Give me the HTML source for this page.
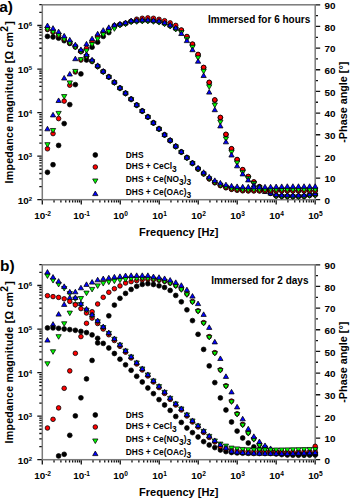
<!DOCTYPE html>
<html><head><meta charset="utf-8"><style>html,body{margin:0;padding:0;background:#fff}svg{display:block}</style></head>
<body><svg width="350" height="498" viewBox="0 0 350 498" font-family='"Liberation Sans", sans-serif'>
<rect width="350" height="498" fill="#fff"/>
<text x="-0.8" y="11.7" font-size="15.5" font-weight="bold">a)</text>
<text x="0.0" y="271.4" font-size="15.5" font-weight="bold">b)</text>
<text x="208.0" y="22.5" font-size="10" font-weight="bold">Immersed for 6 hours</text>
<text x="211.2" y="283.9" font-size="10" font-weight="bold">Immersed for 2 days</text>
<path d="M42.30 199.70v4.8 M54.03 199.70v2.8 M60.90 199.70v2.8 M65.77 199.70v2.8 M69.55 199.70v2.8 M72.63 199.70v2.8 M75.24 199.70v2.8 M77.50 199.70v2.8 M79.50 199.70v2.8 M81.28 199.70v4.8 M93.01 199.70v2.8 M99.88 199.70v2.8 M104.75 199.70v2.8 M108.53 199.70v2.8 M111.61 199.70v2.8 M114.22 199.70v2.8 M116.48 199.70v2.8 M118.48 199.70v2.8 M120.26 199.70v4.8 M131.99 199.70v2.8 M138.86 199.70v2.8 M143.73 199.70v2.8 M147.51 199.70v2.8 M150.59 199.70v2.8 M153.20 199.70v2.8 M155.46 199.70v2.8 M157.46 199.70v2.8 M159.24 199.70v4.8 M170.97 199.70v2.8 M177.84 199.70v2.8 M182.71 199.70v2.8 M186.49 199.70v2.8 M189.57 199.70v2.8 M192.18 199.70v2.8 M194.44 199.70v2.8 M196.44 199.70v2.8 M198.22 199.70v4.8 M209.95 199.70v2.8 M216.82 199.70v2.8 M221.69 199.70v2.8 M225.47 199.70v2.8 M228.55 199.70v2.8 M231.16 199.70v2.8 M233.42 199.70v2.8 M235.42 199.70v2.8 M237.20 199.70v4.8 M248.93 199.70v2.8 M255.80 199.70v2.8 M260.67 199.70v2.8 M264.45 199.70v2.8 M267.53 199.70v2.8 M270.14 199.70v2.8 M272.40 199.70v2.8 M274.40 199.70v2.8 M276.18 199.70v4.8 M287.91 199.70v2.8 M294.78 199.70v2.8 M299.65 199.70v2.8 M303.43 199.70v2.8 M306.51 199.70v2.8 M309.12 199.70v2.8 M311.38 199.70v2.8 M313.38 199.70v2.8 M315.16 199.70v4.8 M42.30 199.70h-5 M42.30 186.59h-3 M42.30 178.92h-3 M42.30 173.48h-3 M42.30 169.26h-3 M42.30 165.81h-3 M42.30 162.90h-3 M42.30 160.37h-3 M42.30 158.14h-3 M42.30 156.15h-5 M42.30 143.04h-3 M42.30 135.37h-3 M42.30 129.93h-3 M42.30 125.71h-3 M42.30 122.26h-3 M42.30 119.35h-3 M42.30 116.82h-3 M42.30 114.59h-3 M42.30 112.60h-5 M42.30 99.49h-3 M42.30 91.82h-3 M42.30 86.38h-3 M42.30 82.16h-3 M42.30 78.71h-3 M42.30 75.80h-3 M42.30 73.27h-3 M42.30 71.04h-3 M42.30 69.05h-5 M42.30 55.94h-3 M42.30 48.27h-3 M42.30 42.83h-3 M42.30 38.61h-3 M42.30 35.16h-3 M42.30 32.25h-3 M42.30 29.72h-3 M42.30 27.49h-3 M42.30 25.50h-5 M42.30 12.39h-3 M42.30 4.72h-3 M315.20 199.70h5 M315.20 188.87h2.8 M315.20 178.04h5 M315.20 167.22h2.8 M315.20 156.39h5 M315.20 145.56h2.8 M315.20 134.73h5 M315.20 123.90h2.8 M315.20 113.08h5 M315.20 102.25h2.8 M315.20 91.42h5 M315.20 80.59h2.8 M315.20 69.76h5 M315.20 58.94h2.8 M315.20 48.11h5 M315.20 37.28h2.8 M315.20 26.45h5 M315.20 15.62h2.8 M315.20 4.80h5" stroke="#111" stroke-width="1.3" fill="none"/>
<rect x="42.3" y="4.8" width="272.90" height="194.90" fill="none" stroke="#7a7a7a" stroke-width="1.5"/>
<g font-weight="bold" fill="#000"><text x="42.60" y="219.20" text-anchor="middle" font-size="9.9">10<tspan font-size="6.6" dy="-3.0">-2</tspan></text><text x="81.58" y="219.20" text-anchor="middle" font-size="9.9">10<tspan font-size="6.6" dy="-3.0">-1</tspan></text><text x="120.56" y="219.20" text-anchor="middle" font-size="9.9">10<tspan font-size="6.6" dy="-3.0">0</tspan></text><text x="159.54" y="219.20" text-anchor="middle" font-size="9.9">10<tspan font-size="6.6" dy="-3.0">1</tspan></text><text x="198.52" y="219.20" text-anchor="middle" font-size="9.9">10<tspan font-size="6.6" dy="-3.0">2</tspan></text><text x="237.50" y="219.20" text-anchor="middle" font-size="9.9">10<tspan font-size="6.6" dy="-3.0">3</tspan></text><text x="276.48" y="219.20" text-anchor="middle" font-size="9.9">10<tspan font-size="6.6" dy="-3.0">4</tspan></text><text x="315.46" y="219.20" text-anchor="middle" font-size="9.9">10<tspan font-size="6.6" dy="-3.0">5</tspan></text><text x="32.2" y="203.60" text-anchor="end" font-size="9.9">10<tspan font-size="6.0" dy="-3.0">2</tspan></text><text x="32.2" y="160.05" text-anchor="end" font-size="9.9">10<tspan font-size="6.0" dy="-3.0">3</tspan></text><text x="32.2" y="116.50" text-anchor="end" font-size="9.9">10<tspan font-size="6.0" dy="-3.0">4</tspan></text><text x="32.2" y="72.95" text-anchor="end" font-size="9.9">10<tspan font-size="6.0" dy="-3.0">5</tspan></text><text x="32.2" y="29.40" text-anchor="end" font-size="9.9">10<tspan font-size="6.0" dy="-3.0">6</tspan></text><text x="324.6" y="203.90" font-size="9.9">0</text><text x="324.6" y="182.24" font-size="9.9">10</text><text x="324.6" y="160.59" font-size="9.9">20</text><text x="324.6" y="138.93" font-size="9.9">30</text><text x="324.6" y="117.28" font-size="9.9">40</text><text x="324.6" y="95.62" font-size="9.9">50</text><text x="324.6" y="73.96" font-size="9.9">60</text><text x="324.6" y="52.31" font-size="9.9">70</text><text x="324.6" y="30.65" font-size="9.9">80</text><text x="324.6" y="9.00" font-size="9.9">90</text></g>
<text x="178.8" y="235.60" text-anchor="middle" font-size="11" font-weight="bold">Frequency [Hz]</text>
<text transform="translate(12.8 102.30) rotate(-90)" text-anchor="middle" font-size="10.7" letter-spacing="0.22" font-weight="bold">Impedance magnitude [&#937; cm<tspan font-size="10.4" dy="-5.0">2</tspan><tspan dy="5.0" dx="0.8">]</tspan></text>
<text transform="translate(347.4 102.20) rotate(-90)" text-anchor="middle" font-size="10.8" font-weight="bold">-Phase angle [&#176;]</text>
<path d="M42.30 459.70v4.8 M54.03 459.70v2.8 M60.90 459.70v2.8 M65.77 459.70v2.8 M69.55 459.70v2.8 M72.63 459.70v2.8 M75.24 459.70v2.8 M77.50 459.70v2.8 M79.50 459.70v2.8 M81.28 459.70v4.8 M93.01 459.70v2.8 M99.88 459.70v2.8 M104.75 459.70v2.8 M108.53 459.70v2.8 M111.61 459.70v2.8 M114.22 459.70v2.8 M116.48 459.70v2.8 M118.48 459.70v2.8 M120.26 459.70v4.8 M131.99 459.70v2.8 M138.86 459.70v2.8 M143.73 459.70v2.8 M147.51 459.70v2.8 M150.59 459.70v2.8 M153.20 459.70v2.8 M155.46 459.70v2.8 M157.46 459.70v2.8 M159.24 459.70v4.8 M170.97 459.70v2.8 M177.84 459.70v2.8 M182.71 459.70v2.8 M186.49 459.70v2.8 M189.57 459.70v2.8 M192.18 459.70v2.8 M194.44 459.70v2.8 M196.44 459.70v2.8 M198.22 459.70v4.8 M209.95 459.70v2.8 M216.82 459.70v2.8 M221.69 459.70v2.8 M225.47 459.70v2.8 M228.55 459.70v2.8 M231.16 459.70v2.8 M233.42 459.70v2.8 M235.42 459.70v2.8 M237.20 459.70v4.8 M248.93 459.70v2.8 M255.80 459.70v2.8 M260.67 459.70v2.8 M264.45 459.70v2.8 M267.53 459.70v2.8 M270.14 459.70v2.8 M272.40 459.70v2.8 M274.40 459.70v2.8 M276.18 459.70v4.8 M287.91 459.70v2.8 M294.78 459.70v2.8 M299.65 459.70v2.8 M303.43 459.70v2.8 M306.51 459.70v2.8 M309.12 459.70v2.8 M311.38 459.70v2.8 M313.38 459.70v2.8 M315.16 459.70v4.8 M42.30 459.70h-5 M42.30 446.59h-3 M42.30 438.92h-3 M42.30 433.48h-3 M42.30 429.26h-3 M42.30 425.81h-3 M42.30 422.90h-3 M42.30 420.37h-3 M42.30 418.14h-3 M42.30 416.15h-5 M42.30 403.04h-3 M42.30 395.37h-3 M42.30 389.93h-3 M42.30 385.71h-3 M42.30 382.26h-3 M42.30 379.35h-3 M42.30 376.82h-3 M42.30 374.59h-3 M42.30 372.60h-5 M42.30 359.49h-3 M42.30 351.82h-3 M42.30 346.38h-3 M42.30 342.16h-3 M42.30 338.71h-3 M42.30 335.80h-3 M42.30 333.27h-3 M42.30 331.04h-3 M42.30 329.05h-5 M42.30 315.94h-3 M42.30 308.27h-3 M42.30 302.83h-3 M42.30 298.61h-3 M42.30 295.16h-3 M42.30 292.25h-3 M42.30 289.72h-3 M42.30 287.49h-3 M42.30 285.50h-5 M42.30 272.39h-3 M42.30 264.72h-3 M315.20 459.70h5 M315.20 448.87h2.8 M315.20 438.04h5 M315.20 427.22h2.8 M315.20 416.39h5 M315.20 405.56h2.8 M315.20 394.73h5 M315.20 383.90h2.8 M315.20 373.08h5 M315.20 362.25h2.8 M315.20 351.42h5 M315.20 340.59h2.8 M315.20 329.76h5 M315.20 318.94h2.8 M315.20 308.11h5 M315.20 297.28h2.8 M315.20 286.45h5 M315.20 275.62h2.8 M315.20 264.80h5" stroke="#111" stroke-width="1.3" fill="none"/>
<rect x="42.3" y="264.8" width="272.90" height="194.90" fill="none" stroke="#7a7a7a" stroke-width="1.5"/>
<g font-weight="bold" fill="#000"><text x="42.60" y="479.20" text-anchor="middle" font-size="9.9">10<tspan font-size="6.6" dy="-3.0">-2</tspan></text><text x="81.58" y="479.20" text-anchor="middle" font-size="9.9">10<tspan font-size="6.6" dy="-3.0">-1</tspan></text><text x="120.56" y="479.20" text-anchor="middle" font-size="9.9">10<tspan font-size="6.6" dy="-3.0">0</tspan></text><text x="159.54" y="479.20" text-anchor="middle" font-size="9.9">10<tspan font-size="6.6" dy="-3.0">1</tspan></text><text x="198.52" y="479.20" text-anchor="middle" font-size="9.9">10<tspan font-size="6.6" dy="-3.0">2</tspan></text><text x="237.50" y="479.20" text-anchor="middle" font-size="9.9">10<tspan font-size="6.6" dy="-3.0">3</tspan></text><text x="276.48" y="479.20" text-anchor="middle" font-size="9.9">10<tspan font-size="6.6" dy="-3.0">4</tspan></text><text x="315.46" y="479.20" text-anchor="middle" font-size="9.9">10<tspan font-size="6.6" dy="-3.0">5</tspan></text><text x="32.2" y="463.60" text-anchor="end" font-size="9.9">10<tspan font-size="6.0" dy="-3.0">2</tspan></text><text x="32.2" y="420.05" text-anchor="end" font-size="9.9">10<tspan font-size="6.0" dy="-3.0">3</tspan></text><text x="32.2" y="376.50" text-anchor="end" font-size="9.9">10<tspan font-size="6.0" dy="-3.0">4</tspan></text><text x="32.2" y="332.95" text-anchor="end" font-size="9.9">10<tspan font-size="6.0" dy="-3.0">5</tspan></text><text x="32.2" y="289.40" text-anchor="end" font-size="9.9">10<tspan font-size="6.0" dy="-3.0">6</tspan></text><text x="324.6" y="463.90" font-size="9.9">0</text><text x="324.6" y="442.24" font-size="9.9">10</text><text x="324.6" y="420.59" font-size="9.9">20</text><text x="324.6" y="398.93" font-size="9.9">30</text><text x="324.6" y="377.28" font-size="9.9">40</text><text x="324.6" y="355.62" font-size="9.9">50</text><text x="324.6" y="333.96" font-size="9.9">60</text><text x="324.6" y="312.31" font-size="9.9">70</text><text x="324.6" y="290.65" font-size="9.9">80</text><text x="324.6" y="269.00" font-size="9.9">90</text></g>
<text x="178.8" y="495.60" text-anchor="middle" font-size="11" font-weight="bold">Frequency [Hz]</text>
<text transform="translate(12.8 362.30) rotate(-90)" text-anchor="middle" font-size="10.7" letter-spacing="0.22" font-weight="bold">Impedance magnitude [&#937; cm<tspan font-size="10.4" dy="-5.0">2</tspan><tspan dy="5.0" dx="0.8">]</tspan></text>
<text transform="translate(347.4 362.20) rotate(-90)" text-anchor="middle" font-size="10.8" font-weight="bold">-Phase angle [&#176;]</text>
<circle cx="315.20" cy="194.80" r="2.4" fill="#000" stroke="#000" stroke-width="0.7"/>
<circle cx="309.62" cy="195.30" r="2.4" fill="#000" stroke="#000" stroke-width="0.7"/>
<circle cx="304.04" cy="196.30" r="2.4" fill="#000" stroke="#000" stroke-width="0.7"/>
<circle cx="298.47" cy="196.43" r="2.4" fill="#000" stroke="#000" stroke-width="0.7"/>
<circle cx="292.89" cy="196.45" r="2.4" fill="#000" stroke="#000" stroke-width="0.7"/>
<circle cx="287.31" cy="196.30" r="2.4" fill="#000" stroke="#000" stroke-width="0.7"/>
<circle cx="281.73" cy="196.21" r="2.4" fill="#000" stroke="#000" stroke-width="0.7"/>
<circle cx="276.15" cy="195.80" r="2.4" fill="#000" stroke="#000" stroke-width="0.7"/>
<circle cx="270.58" cy="193.36" r="2.4" fill="#000" stroke="#000" stroke-width="0.7"/>
<circle cx="265.00" cy="190.52" r="2.4" fill="#000" stroke="#000" stroke-width="0.7"/>
<circle cx="259.42" cy="186.89" r="2.4" fill="#000" stroke="#000" stroke-width="0.7"/>
<circle cx="253.84" cy="182.20" r="2.4" fill="#000" stroke="#000" stroke-width="0.7"/>
<circle cx="248.26" cy="176.70" r="2.4" fill="#000" stroke="#000" stroke-width="0.7"/>
<circle cx="242.69" cy="169.90" r="2.4" fill="#000" stroke="#000" stroke-width="0.7"/>
<circle cx="237.11" cy="159.80" r="2.4" fill="#000" stroke="#000" stroke-width="0.7"/>
<circle cx="231.53" cy="149.00" r="2.4" fill="#000" stroke="#000" stroke-width="0.7"/>
<circle cx="225.95" cy="134.60" r="2.4" fill="#000" stroke="#000" stroke-width="0.7"/>
<circle cx="220.37" cy="117.70" r="2.4" fill="#000" stroke="#000" stroke-width="0.7"/>
<circle cx="214.80" cy="100.20" r="2.4" fill="#000" stroke="#000" stroke-width="0.7"/>
<circle cx="209.22" cy="82.60" r="2.4" fill="#000" stroke="#000" stroke-width="0.7"/>
<circle cx="203.64" cy="67.70" r="2.4" fill="#000" stroke="#000" stroke-width="0.7"/>
<circle cx="198.06" cy="54.70" r="2.4" fill="#000" stroke="#000" stroke-width="0.7"/>
<circle cx="192.48" cy="44.40" r="2.4" fill="#000" stroke="#000" stroke-width="0.7"/>
<circle cx="186.91" cy="36.80" r="2.4" fill="#000" stroke="#000" stroke-width="0.7"/>
<circle cx="181.33" cy="30.30" r="2.4" fill="#000" stroke="#000" stroke-width="0.7"/>
<circle cx="175.75" cy="28.60" r="2.4" fill="#000" stroke="#000" stroke-width="0.7"/>
<circle cx="170.17" cy="25.70" r="2.4" fill="#000" stroke="#000" stroke-width="0.7"/>
<circle cx="164.59" cy="23.40" r="2.4" fill="#000" stroke="#000" stroke-width="0.7"/>
<circle cx="159.02" cy="21.70" r="2.4" fill="#000" stroke="#000" stroke-width="0.7"/>
<circle cx="153.44" cy="21.00" r="2.4" fill="#000" stroke="#000" stroke-width="0.7"/>
<circle cx="147.86" cy="20.60" r="2.4" fill="#000" stroke="#000" stroke-width="0.7"/>
<circle cx="142.28" cy="20.60" r="2.4" fill="#000" stroke="#000" stroke-width="0.7"/>
<circle cx="136.70" cy="21.00" r="2.4" fill="#000" stroke="#000" stroke-width="0.7"/>
<circle cx="131.13" cy="21.40" r="2.4" fill="#000" stroke="#000" stroke-width="0.7"/>
<circle cx="125.55" cy="23.40" r="2.4" fill="#000" stroke="#000" stroke-width="0.7"/>
<circle cx="119.97" cy="24.60" r="2.4" fill="#000" stroke="#000" stroke-width="0.7"/>
<circle cx="114.39" cy="25.70" r="2.4" fill="#000" stroke="#000" stroke-width="0.7"/>
<circle cx="108.81" cy="32.60" r="2.4" fill="#000" stroke="#000" stroke-width="0.7"/>
<circle cx="103.24" cy="36.40" r="2.4" fill="#000" stroke="#000" stroke-width="0.7"/>
<circle cx="97.66" cy="42.20" r="2.4" fill="#000" stroke="#000" stroke-width="0.7"/>
<circle cx="92.08" cy="47.20" r="2.4" fill="#000" stroke="#000" stroke-width="0.7"/>
<circle cx="86.50" cy="60.00" r="2.4" fill="#000" stroke="#000" stroke-width="0.7"/>
<circle cx="80.92" cy="73.90" r="2.4" fill="#000" stroke="#000" stroke-width="0.7"/>
<circle cx="75.35" cy="84.60" r="2.4" fill="#000" stroke="#000" stroke-width="0.7"/>
<circle cx="69.77" cy="104.60" r="2.4" fill="#000" stroke="#000" stroke-width="0.7"/>
<circle cx="64.19" cy="123.60" r="2.4" fill="#000" stroke="#000" stroke-width="0.7"/>
<circle cx="58.61" cy="145.40" r="2.4" fill="#000" stroke="#000" stroke-width="0.7"/>
<circle cx="53.03" cy="164.70" r="2.4" fill="#000" stroke="#000" stroke-width="0.7"/>
<circle cx="47.46" cy="172.30" r="2.4" fill="#000" stroke="#000" stroke-width="0.7"/>
<circle cx="315.20" cy="194.80" r="2.3" fill="#f00" stroke="#000" stroke-width="0.8"/>
<circle cx="309.62" cy="195.30" r="2.3" fill="#f00" stroke="#000" stroke-width="0.8"/>
<circle cx="304.04" cy="196.30" r="2.3" fill="#f00" stroke="#000" stroke-width="0.8"/>
<circle cx="298.47" cy="196.43" r="2.3" fill="#f00" stroke="#000" stroke-width="0.8"/>
<circle cx="292.89" cy="196.45" r="2.3" fill="#f00" stroke="#000" stroke-width="0.8"/>
<circle cx="287.31" cy="196.30" r="2.3" fill="#f00" stroke="#000" stroke-width="0.8"/>
<circle cx="281.73" cy="196.21" r="2.3" fill="#f00" stroke="#000" stroke-width="0.8"/>
<circle cx="276.15" cy="195.80" r="2.3" fill="#f00" stroke="#000" stroke-width="0.8"/>
<circle cx="270.58" cy="193.06" r="2.3" fill="#f00" stroke="#000" stroke-width="0.8"/>
<circle cx="265.00" cy="190.22" r="2.3" fill="#f00" stroke="#000" stroke-width="0.8"/>
<circle cx="259.42" cy="186.59" r="2.3" fill="#f00" stroke="#000" stroke-width="0.8"/>
<circle cx="253.84" cy="181.90" r="2.3" fill="#f00" stroke="#000" stroke-width="0.8"/>
<circle cx="248.26" cy="176.40" r="2.3" fill="#f00" stroke="#000" stroke-width="0.8"/>
<circle cx="242.69" cy="169.60" r="2.3" fill="#f00" stroke="#000" stroke-width="0.8"/>
<circle cx="237.11" cy="159.50" r="2.3" fill="#f00" stroke="#000" stroke-width="0.8"/>
<circle cx="231.53" cy="148.70" r="2.3" fill="#f00" stroke="#000" stroke-width="0.8"/>
<circle cx="225.95" cy="134.30" r="2.3" fill="#f00" stroke="#000" stroke-width="0.8"/>
<circle cx="220.37" cy="117.40" r="2.3" fill="#f00" stroke="#000" stroke-width="0.8"/>
<circle cx="214.80" cy="99.90" r="2.3" fill="#f00" stroke="#000" stroke-width="0.8"/>
<circle cx="209.22" cy="82.30" r="2.3" fill="#f00" stroke="#000" stroke-width="0.8"/>
<circle cx="203.64" cy="67.40" r="2.3" fill="#f00" stroke="#000" stroke-width="0.8"/>
<circle cx="198.06" cy="54.40" r="2.3" fill="#f00" stroke="#000" stroke-width="0.8"/>
<circle cx="192.48" cy="44.10" r="2.3" fill="#f00" stroke="#000" stroke-width="0.8"/>
<circle cx="186.91" cy="36.50" r="2.3" fill="#f00" stroke="#000" stroke-width="0.8"/>
<circle cx="181.33" cy="30.00" r="2.3" fill="#f00" stroke="#000" stroke-width="0.8"/>
<circle cx="175.75" cy="25.40" r="2.3" fill="#f00" stroke="#000" stroke-width="0.8"/>
<circle cx="170.17" cy="22.90" r="2.3" fill="#f00" stroke="#000" stroke-width="0.8"/>
<circle cx="164.59" cy="20.70" r="2.3" fill="#f00" stroke="#000" stroke-width="0.8"/>
<circle cx="159.02" cy="19.30" r="2.3" fill="#f00" stroke="#000" stroke-width="0.8"/>
<circle cx="153.44" cy="18.30" r="2.3" fill="#f00" stroke="#000" stroke-width="0.8"/>
<circle cx="147.86" cy="17.90" r="2.3" fill="#f00" stroke="#000" stroke-width="0.8"/>
<circle cx="142.28" cy="18.30" r="2.3" fill="#f00" stroke="#000" stroke-width="0.8"/>
<circle cx="136.70" cy="19.20" r="2.3" fill="#f00" stroke="#000" stroke-width="0.8"/>
<circle cx="131.13" cy="21.40" r="2.3" fill="#f00" stroke="#000" stroke-width="0.8"/>
<circle cx="125.55" cy="23.40" r="2.3" fill="#f00" stroke="#000" stroke-width="0.8"/>
<circle cx="119.97" cy="24.60" r="2.3" fill="#f00" stroke="#000" stroke-width="0.8"/>
<circle cx="114.39" cy="26.85" r="2.3" fill="#f00" stroke="#000" stroke-width="0.8"/>
<circle cx="108.81" cy="29.50" r="2.3" fill="#f00" stroke="#000" stroke-width="0.8"/>
<circle cx="103.24" cy="32.50" r="2.3" fill="#f00" stroke="#000" stroke-width="0.8"/>
<circle cx="97.66" cy="36.35" r="2.3" fill="#f00" stroke="#000" stroke-width="0.8"/>
<circle cx="92.08" cy="41.60" r="2.3" fill="#f00" stroke="#000" stroke-width="0.8"/>
<circle cx="86.50" cy="48.50" r="2.3" fill="#f00" stroke="#000" stroke-width="0.8"/>
<circle cx="80.92" cy="60.00" r="2.3" fill="#f00" stroke="#000" stroke-width="0.8"/>
<circle cx="75.35" cy="72.00" r="2.3" fill="#f00" stroke="#000" stroke-width="0.8"/>
<circle cx="69.77" cy="85.20" r="2.3" fill="#f00" stroke="#000" stroke-width="0.8"/>
<circle cx="64.19" cy="101.10" r="2.3" fill="#f00" stroke="#000" stroke-width="0.8"/>
<circle cx="58.61" cy="118.60" r="2.3" fill="#f00" stroke="#000" stroke-width="0.8"/>
<circle cx="53.03" cy="133.60" r="2.3" fill="#f00" stroke="#000" stroke-width="0.8"/>
<circle cx="47.46" cy="148.80" r="2.3" fill="#f00" stroke="#000" stroke-width="0.8"/>
<path d="M312.56 193.28h5.28L315.20 197.85z" fill="#0f0" stroke="#000" stroke-width="0.75"/>
<path d="M306.98 193.78h5.28L309.62 198.35z" fill="#0f0" stroke="#000" stroke-width="0.75"/>
<path d="M301.40 194.78h5.28L304.04 199.35z" fill="#0f0" stroke="#000" stroke-width="0.75"/>
<path d="M295.82 194.91h5.28L298.47 199.48z" fill="#0f0" stroke="#000" stroke-width="0.75"/>
<path d="M290.25 194.92h5.28L292.89 199.50z" fill="#0f0" stroke="#000" stroke-width="0.75"/>
<path d="M284.67 194.78h5.28L287.31 199.35z" fill="#0f0" stroke="#000" stroke-width="0.75"/>
<path d="M279.09 194.68h5.28L281.73 199.26z" fill="#0f0" stroke="#000" stroke-width="0.75"/>
<path d="M273.51 194.28h5.28L276.15 198.85z" fill="#0f0" stroke="#000" stroke-width="0.75"/>
<path d="M267.93 191.41h5.28L270.58 195.98z" fill="#0f0" stroke="#000" stroke-width="0.75"/>
<path d="M262.36 188.80h5.28L265.00 193.37z" fill="#0f0" stroke="#000" stroke-width="0.75"/>
<path d="M256.78 185.51h5.28L259.42 190.09z" fill="#0f0" stroke="#000" stroke-width="0.75"/>
<path d="M251.20 181.47h5.28L253.84 186.05z" fill="#0f0" stroke="#000" stroke-width="0.75"/>
<path d="M245.62 176.57h5.28L248.26 181.15z" fill="#0f0" stroke="#000" stroke-width="0.75"/>
<path d="M240.04 170.38h5.28L242.69 174.95z" fill="#0f0" stroke="#000" stroke-width="0.75"/>
<path d="M234.47 160.97h5.28L237.11 165.55z" fill="#0f0" stroke="#000" stroke-width="0.75"/>
<path d="M228.89 150.17h5.28L231.53 154.75z" fill="#0f0" stroke="#000" stroke-width="0.75"/>
<path d="M223.31 136.88h5.28L225.95 141.45z" fill="#0f0" stroke="#000" stroke-width="0.75"/>
<path d="M217.73 120.17h5.28L220.37 124.75z" fill="#0f0" stroke="#000" stroke-width="0.75"/>
<path d="M212.15 103.07h5.28L214.80 107.65z" fill="#0f0" stroke="#000" stroke-width="0.75"/>
<path d="M206.58 84.77h5.28L209.22 89.35z" fill="#0f0" stroke="#000" stroke-width="0.75"/>
<path d="M201.00 69.27h5.28L203.64 73.85z" fill="#0f0" stroke="#000" stroke-width="0.75"/>
<path d="M195.42 55.88h5.28L198.06 60.45z" fill="#0f0" stroke="#000" stroke-width="0.75"/>
<path d="M189.84 45.27h5.28L192.48 49.85z" fill="#0f0" stroke="#000" stroke-width="0.75"/>
<path d="M184.26 37.08h5.28L186.91 41.65z" fill="#0f0" stroke="#000" stroke-width="0.75"/>
<path d="M178.69 30.48h5.28L181.33 35.05z" fill="#0f0" stroke="#000" stroke-width="0.75"/>
<path d="M173.11 27.38h5.28L175.75 31.95z" fill="#0f0" stroke="#000" stroke-width="0.75"/>
<path d="M167.53 24.48h5.28L170.17 29.05z" fill="#0f0" stroke="#000" stroke-width="0.75"/>
<path d="M161.95 22.18h5.28L164.59 26.75z" fill="#0f0" stroke="#000" stroke-width="0.75"/>
<path d="M156.37 20.48h5.28L159.02 25.05z" fill="#0f0" stroke="#000" stroke-width="0.75"/>
<path d="M150.80 19.78h5.28L153.44 24.35z" fill="#0f0" stroke="#000" stroke-width="0.75"/>
<path d="M145.22 19.38h5.28L147.86 23.95z" fill="#0f0" stroke="#000" stroke-width="0.75"/>
<path d="M139.64 19.38h5.28L142.28 23.95z" fill="#0f0" stroke="#000" stroke-width="0.75"/>
<path d="M134.06 19.78h5.28L136.70 24.35z" fill="#0f0" stroke="#000" stroke-width="0.75"/>
<path d="M128.48 20.18h5.28L131.13 24.75z" fill="#0f0" stroke="#000" stroke-width="0.75"/>
<path d="M122.91 22.18h5.28L125.55 26.75z" fill="#0f0" stroke="#000" stroke-width="0.75"/>
<path d="M117.33 23.38h5.28L119.97 27.95z" fill="#0f0" stroke="#000" stroke-width="0.75"/>
<path d="M111.75 26.78h5.28L114.39 31.35z" fill="#0f0" stroke="#000" stroke-width="0.75"/>
<path d="M106.17 29.58h5.28L108.81 34.15z" fill="#0f0" stroke="#000" stroke-width="0.75"/>
<path d="M100.59 32.77h5.28L103.24 37.35z" fill="#0f0" stroke="#000" stroke-width="0.75"/>
<path d="M95.02 36.88h5.28L97.66 41.45z" fill="#0f0" stroke="#000" stroke-width="0.75"/>
<path d="M89.44 42.48h5.28L92.08 47.05z" fill="#0f0" stroke="#000" stroke-width="0.75"/>
<path d="M83.86 48.88h5.28L86.50 53.45z" fill="#0f0" stroke="#000" stroke-width="0.75"/>
<path d="M78.28 57.68h5.28L80.92 62.25z" fill="#0f0" stroke="#000" stroke-width="0.75"/>
<path d="M72.70 69.38h5.28L75.35 73.95z" fill="#0f0" stroke="#000" stroke-width="0.75"/>
<path d="M67.13 80.88h5.28L69.77 85.45z" fill="#0f0" stroke="#000" stroke-width="0.75"/>
<path d="M61.55 94.57h5.28L64.19 99.15z" fill="#0f0" stroke="#000" stroke-width="0.75"/>
<path d="M55.97 111.38h5.28L58.61 115.95z" fill="#0f0" stroke="#000" stroke-width="0.75"/>
<path d="M50.39 128.47h5.28L53.03 133.05z" fill="#0f0" stroke="#000" stroke-width="0.75"/>
<path d="M44.81 142.67h5.28L47.46 147.25z" fill="#0f0" stroke="#000" stroke-width="0.75"/>
<path d="M312.56 195.53h5.28L315.20 190.95z" fill="#00f" stroke="#000" stroke-width="0.75"/>
<path d="M306.98 196.03h5.28L309.62 191.45z" fill="#00f" stroke="#000" stroke-width="0.75"/>
<path d="M301.40 197.03h5.28L304.04 192.45z" fill="#00f" stroke="#000" stroke-width="0.75"/>
<path d="M295.82 197.16h5.28L298.47 192.58z" fill="#00f" stroke="#000" stroke-width="0.75"/>
<path d="M290.25 197.17h5.28L292.89 192.60z" fill="#00f" stroke="#000" stroke-width="0.75"/>
<path d="M284.67 197.03h5.28L287.31 192.45z" fill="#00f" stroke="#000" stroke-width="0.75"/>
<path d="M279.09 196.93h5.28L281.73 192.36z" fill="#00f" stroke="#000" stroke-width="0.75"/>
<path d="M273.51 196.53h5.28L276.15 191.95z" fill="#00f" stroke="#000" stroke-width="0.75"/>
<path d="M267.93 195.12h5.28L270.58 190.55z" fill="#00f" stroke="#000" stroke-width="0.75"/>
<path d="M262.36 193.53h5.28L265.00 188.95z" fill="#00f" stroke="#000" stroke-width="0.75"/>
<path d="M256.78 191.03h5.28L259.42 186.45z" fill="#00f" stroke="#000" stroke-width="0.75"/>
<path d="M251.20 187.03h5.28L253.84 182.45z" fill="#00f" stroke="#000" stroke-width="0.75"/>
<path d="M245.62 181.93h5.28L248.26 177.35z" fill="#00f" stroke="#000" stroke-width="0.75"/>
<path d="M240.04 175.93h5.28L242.69 171.35z" fill="#00f" stroke="#000" stroke-width="0.75"/>
<path d="M234.47 167.83h5.28L237.11 163.25z" fill="#00f" stroke="#000" stroke-width="0.75"/>
<path d="M228.89 157.03h5.28L231.53 152.45z" fill="#00f" stroke="#000" stroke-width="0.75"/>
<path d="M223.31 143.83h5.28L225.95 139.25z" fill="#00f" stroke="#000" stroke-width="0.75"/>
<path d="M217.73 127.93h5.28L220.37 123.35z" fill="#00f" stroke="#000" stroke-width="0.75"/>
<path d="M212.15 111.73h5.28L214.80 107.15z" fill="#00f" stroke="#000" stroke-width="0.75"/>
<path d="M206.58 94.12h5.28L209.22 89.55z" fill="#00f" stroke="#000" stroke-width="0.75"/>
<path d="M201.00 77.53h5.28L203.64 72.95z" fill="#00f" stroke="#000" stroke-width="0.75"/>
<path d="M195.42 63.23h5.28L198.06 58.65z" fill="#00f" stroke="#000" stroke-width="0.75"/>
<path d="M189.84 51.73h5.28L192.48 47.15z" fill="#00f" stroke="#000" stroke-width="0.75"/>
<path d="M184.26 42.62h5.28L186.91 38.05z" fill="#00f" stroke="#000" stroke-width="0.75"/>
<path d="M178.69 35.52h5.28L181.33 30.95z" fill="#00f" stroke="#000" stroke-width="0.75"/>
<path d="M173.11 29.82h5.28L175.75 25.25z" fill="#00f" stroke="#000" stroke-width="0.75"/>
<path d="M167.53 26.92h5.28L170.17 22.35z" fill="#00f" stroke="#000" stroke-width="0.75"/>
<path d="M161.95 24.62h5.28L164.59 20.05z" fill="#00f" stroke="#000" stroke-width="0.75"/>
<path d="M156.37 22.92h5.28L159.02 18.35z" fill="#00f" stroke="#000" stroke-width="0.75"/>
<path d="M150.80 22.22h5.28L153.44 17.65z" fill="#00f" stroke="#000" stroke-width="0.75"/>
<path d="M145.22 21.82h5.28L147.86 17.25z" fill="#00f" stroke="#000" stroke-width="0.75"/>
<path d="M139.64 21.82h5.28L142.28 17.25z" fill="#00f" stroke="#000" stroke-width="0.75"/>
<path d="M134.06 22.22h5.28L136.70 17.65z" fill="#00f" stroke="#000" stroke-width="0.75"/>
<path d="M128.48 22.62h5.28L131.13 18.05z" fill="#00f" stroke="#000" stroke-width="0.75"/>
<path d="M122.91 24.62h5.28L125.55 20.05z" fill="#00f" stroke="#000" stroke-width="0.75"/>
<path d="M117.33 25.82h5.28L119.97 21.25z" fill="#00f" stroke="#000" stroke-width="0.75"/>
<path d="M111.75 26.92h5.28L114.39 22.35z" fill="#00f" stroke="#000" stroke-width="0.75"/>
<path d="M106.17 29.42h5.28L108.81 24.85z" fill="#00f" stroke="#000" stroke-width="0.75"/>
<path d="M100.59 32.23h5.28L103.24 27.65z" fill="#00f" stroke="#000" stroke-width="0.75"/>
<path d="M95.02 35.82h5.28L97.66 31.25z" fill="#00f" stroke="#000" stroke-width="0.75"/>
<path d="M89.44 40.73h5.28L92.08 36.15z" fill="#00f" stroke="#000" stroke-width="0.75"/>
<path d="M83.86 45.92h5.28L86.50 41.35z" fill="#00f" stroke="#000" stroke-width="0.75"/>
<path d="M78.28 52.52h5.28L80.92 47.95z" fill="#00f" stroke="#000" stroke-width="0.75"/>
<path d="M72.70 60.73h5.28L75.35 56.15z" fill="#00f" stroke="#000" stroke-width="0.75"/>
<path d="M67.13 76.03h5.28L69.77 71.45z" fill="#00f" stroke="#000" stroke-width="0.75"/>
<path d="M61.55 80.03h5.28L64.19 75.45z" fill="#00f" stroke="#000" stroke-width="0.75"/>
<path d="M55.97 102.53h5.28L58.61 97.95z" fill="#00f" stroke="#000" stroke-width="0.75"/>
<path d="M50.39 116.93h5.28L53.03 112.35z" fill="#00f" stroke="#000" stroke-width="0.75"/>
<path d="M44.81 130.83h5.28L47.46 126.25z" fill="#00f" stroke="#000" stroke-width="0.75"/>
<circle cx="315.20" cy="190.60" r="2.4" fill="#000" stroke="#000" stroke-width="0.7"/>
<circle cx="309.62" cy="190.60" r="2.4" fill="#000" stroke="#000" stroke-width="0.7"/>
<circle cx="304.04" cy="190.60" r="2.4" fill="#000" stroke="#000" stroke-width="0.7"/>
<circle cx="298.47" cy="190.61" r="2.4" fill="#000" stroke="#000" stroke-width="0.7"/>
<circle cx="292.89" cy="190.60" r="2.4" fill="#000" stroke="#000" stroke-width="0.7"/>
<circle cx="287.31" cy="190.60" r="2.4" fill="#000" stroke="#000" stroke-width="0.7"/>
<circle cx="281.73" cy="190.61" r="2.4" fill="#000" stroke="#000" stroke-width="0.7"/>
<circle cx="276.15" cy="190.61" r="2.4" fill="#000" stroke="#000" stroke-width="0.7"/>
<circle cx="270.58" cy="190.60" r="2.4" fill="#000" stroke="#000" stroke-width="0.7"/>
<circle cx="265.00" cy="190.63" r="2.4" fill="#000" stroke="#000" stroke-width="0.7"/>
<circle cx="259.42" cy="190.64" r="2.4" fill="#000" stroke="#000" stroke-width="0.7"/>
<circle cx="253.84" cy="190.60" r="2.4" fill="#000" stroke="#000" stroke-width="0.7"/>
<circle cx="248.26" cy="190.61" r="2.4" fill="#000" stroke="#000" stroke-width="0.7"/>
<circle cx="242.69" cy="190.30" r="2.4" fill="#000" stroke="#000" stroke-width="0.7"/>
<circle cx="237.11" cy="189.79" r="2.4" fill="#000" stroke="#000" stroke-width="0.7"/>
<circle cx="231.53" cy="188.89" r="2.4" fill="#000" stroke="#000" stroke-width="0.7"/>
<circle cx="225.95" cy="187.36" r="2.4" fill="#000" stroke="#000" stroke-width="0.7"/>
<circle cx="220.37" cy="185.22" r="2.4" fill="#000" stroke="#000" stroke-width="0.7"/>
<circle cx="214.80" cy="182.39" r="2.4" fill="#000" stroke="#000" stroke-width="0.7"/>
<circle cx="209.22" cy="178.55" r="2.4" fill="#000" stroke="#000" stroke-width="0.7"/>
<circle cx="203.64" cy="173.62" r="2.4" fill="#000" stroke="#000" stroke-width="0.7"/>
<circle cx="198.06" cy="168.78" r="2.4" fill="#000" stroke="#000" stroke-width="0.7"/>
<circle cx="192.48" cy="163.20" r="2.4" fill="#000" stroke="#000" stroke-width="0.7"/>
<circle cx="186.91" cy="157.70" r="2.4" fill="#000" stroke="#000" stroke-width="0.7"/>
<circle cx="181.33" cy="152.00" r="2.4" fill="#000" stroke="#000" stroke-width="0.7"/>
<circle cx="175.75" cy="146.40" r="2.4" fill="#000" stroke="#000" stroke-width="0.7"/>
<circle cx="170.17" cy="140.50" r="2.4" fill="#000" stroke="#000" stroke-width="0.7"/>
<circle cx="164.59" cy="134.90" r="2.4" fill="#000" stroke="#000" stroke-width="0.7"/>
<circle cx="159.02" cy="128.90" r="2.4" fill="#000" stroke="#000" stroke-width="0.7"/>
<circle cx="153.44" cy="122.90" r="2.4" fill="#000" stroke="#000" stroke-width="0.7"/>
<circle cx="147.86" cy="116.98" r="2.4" fill="#000" stroke="#000" stroke-width="0.7"/>
<circle cx="142.28" cy="111.06" r="2.4" fill="#000" stroke="#000" stroke-width="0.7"/>
<circle cx="136.70" cy="105.13" r="2.4" fill="#000" stroke="#000" stroke-width="0.7"/>
<circle cx="131.13" cy="99.21" r="2.4" fill="#000" stroke="#000" stroke-width="0.7"/>
<circle cx="125.55" cy="93.30" r="2.4" fill="#000" stroke="#000" stroke-width="0.7"/>
<circle cx="119.97" cy="88.10" r="2.4" fill="#000" stroke="#000" stroke-width="0.7"/>
<circle cx="114.39" cy="82.40" r="2.4" fill="#000" stroke="#000" stroke-width="0.7"/>
<circle cx="108.81" cy="76.90" r="2.4" fill="#000" stroke="#000" stroke-width="0.7"/>
<circle cx="103.24" cy="71.60" r="2.4" fill="#000" stroke="#000" stroke-width="0.7"/>
<circle cx="97.66" cy="66.21" r="2.4" fill="#000" stroke="#000" stroke-width="0.7"/>
<circle cx="92.08" cy="60.95" r="2.4" fill="#000" stroke="#000" stroke-width="0.7"/>
<circle cx="86.50" cy="55.91" r="2.4" fill="#000" stroke="#000" stroke-width="0.7"/>
<circle cx="80.92" cy="51.20" r="2.4" fill="#000" stroke="#000" stroke-width="0.7"/>
<circle cx="75.35" cy="46.50" r="2.4" fill="#000" stroke="#000" stroke-width="0.7"/>
<circle cx="69.77" cy="43.40" r="2.4" fill="#000" stroke="#000" stroke-width="0.7"/>
<circle cx="64.19" cy="40.70" r="2.4" fill="#000" stroke="#000" stroke-width="0.7"/>
<circle cx="58.61" cy="38.20" r="2.4" fill="#000" stroke="#000" stroke-width="0.7"/>
<circle cx="53.03" cy="37.00" r="2.4" fill="#000" stroke="#000" stroke-width="0.7"/>
<circle cx="47.46" cy="36.40" r="2.4" fill="#000" stroke="#000" stroke-width="0.7"/>
<circle cx="315.20" cy="190.90" r="2.3" fill="#f00" stroke="#000" stroke-width="0.8"/>
<circle cx="309.62" cy="190.90" r="2.3" fill="#f00" stroke="#000" stroke-width="0.8"/>
<circle cx="304.04" cy="190.90" r="2.3" fill="#f00" stroke="#000" stroke-width="0.8"/>
<circle cx="298.47" cy="190.91" r="2.3" fill="#f00" stroke="#000" stroke-width="0.8"/>
<circle cx="292.89" cy="190.90" r="2.3" fill="#f00" stroke="#000" stroke-width="0.8"/>
<circle cx="287.31" cy="190.90" r="2.3" fill="#f00" stroke="#000" stroke-width="0.8"/>
<circle cx="281.73" cy="190.91" r="2.3" fill="#f00" stroke="#000" stroke-width="0.8"/>
<circle cx="276.15" cy="190.91" r="2.3" fill="#f00" stroke="#000" stroke-width="0.8"/>
<circle cx="270.58" cy="190.90" r="2.3" fill="#f00" stroke="#000" stroke-width="0.8"/>
<circle cx="265.00" cy="190.93" r="2.3" fill="#f00" stroke="#000" stroke-width="0.8"/>
<circle cx="259.42" cy="190.94" r="2.3" fill="#f00" stroke="#000" stroke-width="0.8"/>
<circle cx="253.84" cy="190.90" r="2.3" fill="#f00" stroke="#000" stroke-width="0.8"/>
<circle cx="248.26" cy="190.91" r="2.3" fill="#f00" stroke="#000" stroke-width="0.8"/>
<circle cx="242.69" cy="190.80" r="2.3" fill="#f00" stroke="#000" stroke-width="0.8"/>
<circle cx="237.11" cy="190.28" r="2.3" fill="#f00" stroke="#000" stroke-width="0.8"/>
<circle cx="231.53" cy="189.35" r="2.3" fill="#f00" stroke="#000" stroke-width="0.8"/>
<circle cx="225.95" cy="187.79" r="2.3" fill="#f00" stroke="#000" stroke-width="0.8"/>
<circle cx="220.37" cy="185.64" r="2.3" fill="#f00" stroke="#000" stroke-width="0.8"/>
<circle cx="214.80" cy="182.78" r="2.3" fill="#f00" stroke="#000" stroke-width="0.8"/>
<circle cx="209.22" cy="178.92" r="2.3" fill="#f00" stroke="#000" stroke-width="0.8"/>
<circle cx="203.64" cy="173.96" r="2.3" fill="#f00" stroke="#000" stroke-width="0.8"/>
<circle cx="198.06" cy="169.10" r="2.3" fill="#f00" stroke="#000" stroke-width="0.8"/>
<circle cx="192.48" cy="163.20" r="2.3" fill="#f00" stroke="#000" stroke-width="0.8"/>
<circle cx="186.91" cy="157.70" r="2.3" fill="#f00" stroke="#000" stroke-width="0.8"/>
<circle cx="181.33" cy="152.00" r="2.3" fill="#f00" stroke="#000" stroke-width="0.8"/>
<circle cx="175.75" cy="146.40" r="2.3" fill="#f00" stroke="#000" stroke-width="0.8"/>
<circle cx="170.17" cy="140.50" r="2.3" fill="#f00" stroke="#000" stroke-width="0.8"/>
<circle cx="164.59" cy="134.90" r="2.3" fill="#f00" stroke="#000" stroke-width="0.8"/>
<circle cx="159.02" cy="128.90" r="2.3" fill="#f00" stroke="#000" stroke-width="0.8"/>
<circle cx="153.44" cy="122.90" r="2.3" fill="#f00" stroke="#000" stroke-width="0.8"/>
<circle cx="147.86" cy="116.94" r="2.3" fill="#f00" stroke="#000" stroke-width="0.8"/>
<circle cx="142.28" cy="110.99" r="2.3" fill="#f00" stroke="#000" stroke-width="0.8"/>
<circle cx="136.70" cy="105.05" r="2.3" fill="#f00" stroke="#000" stroke-width="0.8"/>
<circle cx="131.13" cy="99.15" r="2.3" fill="#f00" stroke="#000" stroke-width="0.8"/>
<circle cx="125.55" cy="93.30" r="2.3" fill="#f00" stroke="#000" stroke-width="0.8"/>
<circle cx="119.97" cy="88.10" r="2.3" fill="#f00" stroke="#000" stroke-width="0.8"/>
<circle cx="114.39" cy="82.40" r="2.3" fill="#f00" stroke="#000" stroke-width="0.8"/>
<circle cx="108.81" cy="76.90" r="2.3" fill="#f00" stroke="#000" stroke-width="0.8"/>
<circle cx="103.24" cy="71.60" r="2.3" fill="#f00" stroke="#000" stroke-width="0.8"/>
<circle cx="97.66" cy="66.50" r="2.3" fill="#f00" stroke="#000" stroke-width="0.8"/>
<circle cx="92.08" cy="61.43" r="2.3" fill="#f00" stroke="#000" stroke-width="0.8"/>
<circle cx="86.50" cy="56.44" r="2.3" fill="#f00" stroke="#000" stroke-width="0.8"/>
<circle cx="80.92" cy="51.61" r="2.3" fill="#f00" stroke="#000" stroke-width="0.8"/>
<circle cx="75.35" cy="47.07" r="2.3" fill="#f00" stroke="#000" stroke-width="0.8"/>
<circle cx="69.77" cy="43.00" r="2.3" fill="#f00" stroke="#000" stroke-width="0.8"/>
<circle cx="64.19" cy="39.50" r="2.3" fill="#f00" stroke="#000" stroke-width="0.8"/>
<circle cx="58.61" cy="35.50" r="2.3" fill="#f00" stroke="#000" stroke-width="0.8"/>
<circle cx="53.03" cy="32.30" r="2.3" fill="#f00" stroke="#000" stroke-width="0.8"/>
<circle cx="47.46" cy="29.50" r="2.3" fill="#f00" stroke="#000" stroke-width="0.8"/>
<path d="M312.56 187.88h5.28L315.20 192.45z" fill="#0f0" stroke="#000" stroke-width="0.75"/>
<path d="M306.98 187.87h5.28L309.62 192.45z" fill="#0f0" stroke="#000" stroke-width="0.75"/>
<path d="M301.40 187.87h5.28L304.04 192.45z" fill="#0f0" stroke="#000" stroke-width="0.75"/>
<path d="M295.82 187.87h5.28L298.47 192.45z" fill="#0f0" stroke="#000" stroke-width="0.75"/>
<path d="M290.25 187.87h5.28L292.89 192.45z" fill="#0f0" stroke="#000" stroke-width="0.75"/>
<path d="M284.67 187.88h5.28L287.31 192.45z" fill="#0f0" stroke="#000" stroke-width="0.75"/>
<path d="M279.09 187.93h5.28L281.73 192.50z" fill="#0f0" stroke="#000" stroke-width="0.75"/>
<path d="M273.51 187.96h5.28L276.15 192.54z" fill="#0f0" stroke="#000" stroke-width="0.75"/>
<path d="M267.93 187.97h5.28L270.58 192.55z" fill="#0f0" stroke="#000" stroke-width="0.75"/>
<path d="M262.36 188.04h5.28L265.00 192.62z" fill="#0f0" stroke="#000" stroke-width="0.75"/>
<path d="M256.78 188.04h5.28L259.42 192.62z" fill="#0f0" stroke="#000" stroke-width="0.75"/>
<path d="M251.20 187.97h5.28L253.84 192.55z" fill="#0f0" stroke="#000" stroke-width="0.75"/>
<path d="M245.62 187.97h5.28L248.26 192.54z" fill="#0f0" stroke="#000" stroke-width="0.75"/>
<path d="M240.04 187.88h5.28L242.69 192.45z" fill="#0f0" stroke="#000" stroke-width="0.75"/>
<path d="M234.47 187.42h5.28L237.11 192.00z" fill="#0f0" stroke="#000" stroke-width="0.75"/>
<path d="M228.89 186.64h5.28L231.53 191.21z" fill="#0f0" stroke="#000" stroke-width="0.75"/>
<path d="M223.31 185.21h5.28L225.95 189.79z" fill="#0f0" stroke="#000" stroke-width="0.75"/>
<path d="M217.73 183.19h5.28L220.37 187.76z" fill="#0f0" stroke="#000" stroke-width="0.75"/>
<path d="M212.15 180.47h5.28L214.80 185.04z" fill="#0f0" stroke="#000" stroke-width="0.75"/>
<path d="M206.58 176.74h5.28L209.22 181.32z" fill="#0f0" stroke="#000" stroke-width="0.75"/>
<path d="M201.00 171.92h5.28L203.64 176.50z" fill="#0f0" stroke="#000" stroke-width="0.75"/>
<path d="M195.42 167.20h5.28L198.06 171.77z" fill="#0f0" stroke="#000" stroke-width="0.75"/>
<path d="M189.84 161.67h5.28L192.48 166.25z" fill="#0f0" stroke="#000" stroke-width="0.75"/>
<path d="M184.26 156.17h5.28L186.91 160.75z" fill="#0f0" stroke="#000" stroke-width="0.75"/>
<path d="M178.69 150.47h5.28L181.33 155.05z" fill="#0f0" stroke="#000" stroke-width="0.75"/>
<path d="M173.11 144.88h5.28L175.75 149.45z" fill="#0f0" stroke="#000" stroke-width="0.75"/>
<path d="M167.53 138.97h5.28L170.17 143.55z" fill="#0f0" stroke="#000" stroke-width="0.75"/>
<path d="M161.95 133.38h5.28L164.59 137.95z" fill="#0f0" stroke="#000" stroke-width="0.75"/>
<path d="M156.37 127.38h5.28L159.02 131.95z" fill="#0f0" stroke="#000" stroke-width="0.75"/>
<path d="M150.80 121.38h5.28L153.44 125.95z" fill="#0f0" stroke="#000" stroke-width="0.75"/>
<path d="M145.22 115.42h5.28L147.86 119.99z" fill="#0f0" stroke="#000" stroke-width="0.75"/>
<path d="M139.64 109.48h5.28L142.28 114.05z" fill="#0f0" stroke="#000" stroke-width="0.75"/>
<path d="M134.06 103.55h5.28L136.70 108.13z" fill="#0f0" stroke="#000" stroke-width="0.75"/>
<path d="M128.48 97.65h5.28L131.13 102.23z" fill="#0f0" stroke="#000" stroke-width="0.75"/>
<path d="M122.91 91.77h5.28L125.55 96.35z" fill="#0f0" stroke="#000" stroke-width="0.75"/>
<path d="M117.33 86.57h5.28L119.97 91.15z" fill="#0f0" stroke="#000" stroke-width="0.75"/>
<path d="M111.75 80.88h5.28L114.39 85.45z" fill="#0f0" stroke="#000" stroke-width="0.75"/>
<path d="M106.17 75.38h5.28L108.81 79.95z" fill="#0f0" stroke="#000" stroke-width="0.75"/>
<path d="M100.59 70.07h5.28L103.24 74.65z" fill="#0f0" stroke="#000" stroke-width="0.75"/>
<path d="M95.02 64.78h5.28L97.66 69.36z" fill="#0f0" stroke="#000" stroke-width="0.75"/>
<path d="M89.44 59.58h5.28L92.08 64.16z" fill="#0f0" stroke="#000" stroke-width="0.75"/>
<path d="M83.86 54.52h5.28L86.50 59.09z" fill="#0f0" stroke="#000" stroke-width="0.75"/>
<path d="M78.28 49.66h5.28L80.92 54.24z" fill="#0f0" stroke="#000" stroke-width="0.75"/>
<path d="M72.70 45.11h5.28L75.35 49.68z" fill="#0f0" stroke="#000" stroke-width="0.75"/>
<path d="M67.13 40.98h5.28L69.77 45.55z" fill="#0f0" stroke="#000" stroke-width="0.75"/>
<path d="M61.55 37.48h5.28L64.19 42.05z" fill="#0f0" stroke="#000" stroke-width="0.75"/>
<path d="M55.97 33.18h5.28L58.61 37.75z" fill="#0f0" stroke="#000" stroke-width="0.75"/>
<path d="M50.39 30.08h5.28L53.03 34.65z" fill="#0f0" stroke="#000" stroke-width="0.75"/>
<path d="M44.81 27.18h5.28L47.46 31.75z" fill="#0f0" stroke="#000" stroke-width="0.75"/>
<path d="M312.56 188.33h5.28L315.20 183.75z" fill="#00f" stroke="#000" stroke-width="0.75"/>
<path d="M306.98 188.32h5.28L309.62 183.75z" fill="#00f" stroke="#000" stroke-width="0.75"/>
<path d="M301.40 188.33h5.28L304.04 183.75z" fill="#00f" stroke="#000" stroke-width="0.75"/>
<path d="M295.82 188.33h5.28L298.47 183.75z" fill="#00f" stroke="#000" stroke-width="0.75"/>
<path d="M290.25 188.33h5.28L292.89 183.75z" fill="#00f" stroke="#000" stroke-width="0.75"/>
<path d="M284.67 188.33h5.28L287.31 183.75z" fill="#00f" stroke="#000" stroke-width="0.75"/>
<path d="M279.09 188.50h5.28L281.73 183.92z" fill="#00f" stroke="#000" stroke-width="0.75"/>
<path d="M273.51 188.67h5.28L276.15 184.09z" fill="#00f" stroke="#000" stroke-width="0.75"/>
<path d="M267.93 188.83h5.28L270.58 184.25z" fill="#00f" stroke="#000" stroke-width="0.75"/>
<path d="M262.36 188.90h5.28L265.00 184.33z" fill="#00f" stroke="#000" stroke-width="0.75"/>
<path d="M256.78 188.94h5.28L259.42 184.37z" fill="#00f" stroke="#000" stroke-width="0.75"/>
<path d="M251.20 188.93h5.28L253.84 184.35z" fill="#00f" stroke="#000" stroke-width="0.75"/>
<path d="M245.62 188.93h5.28L248.26 184.35z" fill="#00f" stroke="#000" stroke-width="0.75"/>
<path d="M240.04 188.83h5.28L242.69 184.25z" fill="#00f" stroke="#000" stroke-width="0.75"/>
<path d="M234.47 188.49h5.28L237.11 183.91z" fill="#00f" stroke="#000" stroke-width="0.75"/>
<path d="M228.89 187.93h5.28L231.53 183.35z" fill="#00f" stroke="#000" stroke-width="0.75"/>
<path d="M223.31 186.72h5.28L225.95 182.15z" fill="#00f" stroke="#000" stroke-width="0.75"/>
<path d="M217.73 184.93h5.28L220.37 180.35z" fill="#00f" stroke="#000" stroke-width="0.75"/>
<path d="M212.15 182.43h5.28L214.80 177.85z" fill="#00f" stroke="#000" stroke-width="0.75"/>
<path d="M206.58 178.93h5.28L209.22 174.35z" fill="#00f" stroke="#000" stroke-width="0.75"/>
<path d="M201.00 174.33h5.28L203.64 169.75z" fill="#00f" stroke="#000" stroke-width="0.75"/>
<path d="M195.42 169.83h5.28L198.06 165.25z" fill="#00f" stroke="#000" stroke-width="0.75"/>
<path d="M189.84 164.72h5.28L192.48 160.15z" fill="#00f" stroke="#000" stroke-width="0.75"/>
<path d="M184.26 159.22h5.28L186.91 154.65z" fill="#00f" stroke="#000" stroke-width="0.75"/>
<path d="M178.69 153.53h5.28L181.33 148.95z" fill="#00f" stroke="#000" stroke-width="0.75"/>
<path d="M173.11 147.93h5.28L175.75 143.35z" fill="#00f" stroke="#000" stroke-width="0.75"/>
<path d="M167.53 142.03h5.28L170.17 137.45z" fill="#00f" stroke="#000" stroke-width="0.75"/>
<path d="M161.95 136.43h5.28L164.59 131.85z" fill="#00f" stroke="#000" stroke-width="0.75"/>
<path d="M156.37 130.43h5.28L159.02 125.85z" fill="#00f" stroke="#000" stroke-width="0.75"/>
<path d="M150.80 124.43h5.28L153.44 119.85z" fill="#00f" stroke="#000" stroke-width="0.75"/>
<path d="M145.22 118.47h5.28L147.86 113.90z" fill="#00f" stroke="#000" stroke-width="0.75"/>
<path d="M139.64 112.53h5.28L142.28 107.96z" fill="#00f" stroke="#000" stroke-width="0.75"/>
<path d="M134.06 106.61h5.28L136.70 102.03z" fill="#00f" stroke="#000" stroke-width="0.75"/>
<path d="M128.48 100.71h5.28L131.13 96.13z" fill="#00f" stroke="#000" stroke-width="0.75"/>
<path d="M122.91 94.83h5.28L125.55 90.25z" fill="#00f" stroke="#000" stroke-width="0.75"/>
<path d="M117.33 89.62h5.28L119.97 85.05z" fill="#00f" stroke="#000" stroke-width="0.75"/>
<path d="M111.75 83.93h5.28L114.39 79.35z" fill="#00f" stroke="#000" stroke-width="0.75"/>
<path d="M106.17 78.43h5.28L108.81 73.85z" fill="#00f" stroke="#000" stroke-width="0.75"/>
<path d="M100.59 73.12h5.28L103.24 68.55z" fill="#00f" stroke="#000" stroke-width="0.75"/>
<path d="M95.02 67.43h5.28L97.66 62.85z" fill="#00f" stroke="#000" stroke-width="0.75"/>
<path d="M89.44 61.82h5.28L92.08 57.25z" fill="#00f" stroke="#000" stroke-width="0.75"/>
<path d="M83.86 56.52h5.28L86.50 51.95z" fill="#00f" stroke="#000" stroke-width="0.75"/>
<path d="M78.28 51.52h5.28L80.92 46.95z" fill="#00f" stroke="#000" stroke-width="0.75"/>
<path d="M72.70 46.73h5.28L75.35 42.15z" fill="#00f" stroke="#000" stroke-width="0.75"/>
<path d="M67.13 41.92h5.28L69.77 37.35z" fill="#00f" stroke="#000" stroke-width="0.75"/>
<path d="M61.55 37.92h5.28L64.19 33.35z" fill="#00f" stroke="#000" stroke-width="0.75"/>
<path d="M55.97 33.73h5.28L58.61 29.15z" fill="#00f" stroke="#000" stroke-width="0.75"/>
<path d="M50.39 30.22h5.28L53.03 25.65z" fill="#00f" stroke="#000" stroke-width="0.75"/>
<path d="M44.81 27.62h5.28L47.46 23.05z" fill="#00f" stroke="#000" stroke-width="0.75"/>
<circle cx="315.20" cy="455.00" r="2.4" fill="#000" stroke="#000" stroke-width="0.7"/>
<circle cx="309.62" cy="455.15" r="2.4" fill="#000" stroke="#000" stroke-width="0.7"/>
<circle cx="304.04" cy="455.24" r="2.4" fill="#000" stroke="#000" stroke-width="0.7"/>
<circle cx="298.47" cy="455.27" r="2.4" fill="#000" stroke="#000" stroke-width="0.7"/>
<circle cx="292.89" cy="455.20" r="2.4" fill="#000" stroke="#000" stroke-width="0.7"/>
<circle cx="287.31" cy="455.00" r="2.4" fill="#000" stroke="#000" stroke-width="0.7"/>
<circle cx="281.73" cy="454.61" r="2.4" fill="#000" stroke="#000" stroke-width="0.7"/>
<circle cx="276.15" cy="453.97" r="2.4" fill="#000" stroke="#000" stroke-width="0.7"/>
<circle cx="270.58" cy="453.00" r="2.4" fill="#000" stroke="#000" stroke-width="0.7"/>
<circle cx="265.00" cy="451.50" r="2.4" fill="#000" stroke="#000" stroke-width="0.7"/>
<circle cx="259.42" cy="449.50" r="2.4" fill="#000" stroke="#000" stroke-width="0.7"/>
<circle cx="253.84" cy="446.90" r="2.4" fill="#000" stroke="#000" stroke-width="0.7"/>
<circle cx="248.26" cy="443.00" r="2.4" fill="#000" stroke="#000" stroke-width="0.7"/>
<circle cx="242.69" cy="438.00" r="2.4" fill="#000" stroke="#000" stroke-width="0.7"/>
<circle cx="237.11" cy="431.10" r="2.4" fill="#000" stroke="#000" stroke-width="0.7"/>
<circle cx="231.53" cy="422.00" r="2.4" fill="#000" stroke="#000" stroke-width="0.7"/>
<circle cx="225.95" cy="410.00" r="2.4" fill="#000" stroke="#000" stroke-width="0.7"/>
<circle cx="220.37" cy="397.90" r="2.4" fill="#000" stroke="#000" stroke-width="0.7"/>
<circle cx="214.80" cy="382.60" r="2.4" fill="#000" stroke="#000" stroke-width="0.7"/>
<circle cx="209.22" cy="365.90" r="2.4" fill="#000" stroke="#000" stroke-width="0.7"/>
<circle cx="203.64" cy="349.40" r="2.4" fill="#000" stroke="#000" stroke-width="0.7"/>
<circle cx="198.06" cy="334.30" r="2.4" fill="#000" stroke="#000" stroke-width="0.7"/>
<circle cx="192.48" cy="320.60" r="2.4" fill="#000" stroke="#000" stroke-width="0.7"/>
<circle cx="186.91" cy="309.80" r="2.4" fill="#000" stroke="#000" stroke-width="0.7"/>
<circle cx="181.33" cy="301.80" r="2.4" fill="#000" stroke="#000" stroke-width="0.7"/>
<circle cx="175.75" cy="295.40" r="2.4" fill="#000" stroke="#000" stroke-width="0.7"/>
<circle cx="170.17" cy="290.40" r="2.4" fill="#000" stroke="#000" stroke-width="0.7"/>
<circle cx="164.59" cy="287.40" r="2.4" fill="#000" stroke="#000" stroke-width="0.7"/>
<circle cx="159.02" cy="285.80" r="2.4" fill="#000" stroke="#000" stroke-width="0.7"/>
<circle cx="153.44" cy="284.50" r="2.4" fill="#000" stroke="#000" stroke-width="0.7"/>
<circle cx="147.86" cy="283.70" r="2.4" fill="#000" stroke="#000" stroke-width="0.7"/>
<circle cx="142.28" cy="284.40" r="2.4" fill="#000" stroke="#000" stroke-width="0.7"/>
<circle cx="136.70" cy="286.30" r="2.4" fill="#000" stroke="#000" stroke-width="0.7"/>
<circle cx="131.13" cy="289.40" r="2.4" fill="#000" stroke="#000" stroke-width="0.7"/>
<circle cx="125.55" cy="293.40" r="2.4" fill="#000" stroke="#000" stroke-width="0.7"/>
<circle cx="119.97" cy="298.30" r="2.4" fill="#000" stroke="#000" stroke-width="0.7"/>
<circle cx="114.39" cy="305.10" r="2.4" fill="#000" stroke="#000" stroke-width="0.7"/>
<circle cx="108.81" cy="315.80" r="2.4" fill="#000" stroke="#000" stroke-width="0.7"/>
<circle cx="103.24" cy="328.05" r="2.4" fill="#000" stroke="#000" stroke-width="0.7"/>
<circle cx="97.66" cy="342.90" r="2.4" fill="#000" stroke="#000" stroke-width="0.7"/>
<circle cx="92.08" cy="360.40" r="2.4" fill="#000" stroke="#000" stroke-width="0.7"/>
<circle cx="86.50" cy="378.90" r="2.4" fill="#000" stroke="#000" stroke-width="0.7"/>
<circle cx="80.92" cy="397.80" r="2.4" fill="#000" stroke="#000" stroke-width="0.7"/>
<circle cx="75.35" cy="415.90" r="2.4" fill="#000" stroke="#000" stroke-width="0.7"/>
<circle cx="69.77" cy="435.30" r="2.4" fill="#000" stroke="#000" stroke-width="0.7"/>
<circle cx="64.19" cy="454.30" r="2.4" fill="#000" stroke="#000" stroke-width="0.7"/>
<circle cx="58.61" cy="455.97" r="2.4" fill="#000" stroke="#000" stroke-width="0.7"/>
<circle cx="315.20" cy="446.30" r="2.3" fill="#f00" stroke="#000" stroke-width="0.8"/>
<circle cx="309.62" cy="453.50" r="2.3" fill="#f00" stroke="#000" stroke-width="0.8"/>
<circle cx="304.04" cy="453.50" r="2.3" fill="#f00" stroke="#000" stroke-width="0.8"/>
<circle cx="298.47" cy="453.50" r="2.3" fill="#f00" stroke="#000" stroke-width="0.8"/>
<circle cx="292.89" cy="453.73" r="2.3" fill="#f00" stroke="#000" stroke-width="0.8"/>
<circle cx="287.31" cy="453.50" r="2.3" fill="#f00" stroke="#000" stroke-width="0.8"/>
<circle cx="281.73" cy="453.02" r="2.3" fill="#f00" stroke="#000" stroke-width="0.8"/>
<circle cx="276.15" cy="452.00" r="2.3" fill="#f00" stroke="#000" stroke-width="0.8"/>
<circle cx="270.58" cy="450.50" r="2.3" fill="#f00" stroke="#000" stroke-width="0.8"/>
<circle cx="265.00" cy="448.00" r="2.3" fill="#f00" stroke="#000" stroke-width="0.8"/>
<circle cx="259.42" cy="444.60" r="2.3" fill="#f00" stroke="#000" stroke-width="0.8"/>
<circle cx="253.84" cy="438.80" r="2.3" fill="#f00" stroke="#000" stroke-width="0.8"/>
<circle cx="248.26" cy="432.70" r="2.3" fill="#f00" stroke="#000" stroke-width="0.8"/>
<circle cx="242.69" cy="424.40" r="2.3" fill="#f00" stroke="#000" stroke-width="0.8"/>
<circle cx="237.11" cy="413.70" r="2.3" fill="#f00" stroke="#000" stroke-width="0.8"/>
<circle cx="231.53" cy="401.10" r="2.3" fill="#f00" stroke="#000" stroke-width="0.8"/>
<circle cx="225.95" cy="385.70" r="2.3" fill="#f00" stroke="#000" stroke-width="0.8"/>
<circle cx="220.37" cy="369.70" r="2.3" fill="#f00" stroke="#000" stroke-width="0.8"/>
<circle cx="214.80" cy="352.60" r="2.3" fill="#f00" stroke="#000" stroke-width="0.8"/>
<circle cx="209.22" cy="336.60" r="2.3" fill="#f00" stroke="#000" stroke-width="0.8"/>
<circle cx="203.64" cy="322.60" r="2.3" fill="#f00" stroke="#000" stroke-width="0.8"/>
<circle cx="198.06" cy="310.70" r="2.3" fill="#f00" stroke="#000" stroke-width="0.8"/>
<circle cx="192.48" cy="301.50" r="2.3" fill="#f00" stroke="#000" stroke-width="0.8"/>
<circle cx="186.91" cy="294.00" r="2.3" fill="#f00" stroke="#000" stroke-width="0.8"/>
<circle cx="181.33" cy="289.00" r="2.3" fill="#f00" stroke="#000" stroke-width="0.8"/>
<circle cx="175.75" cy="285.53" r="2.3" fill="#f00" stroke="#000" stroke-width="0.8"/>
<circle cx="170.17" cy="283.06" r="2.3" fill="#f00" stroke="#000" stroke-width="0.8"/>
<circle cx="164.59" cy="281.36" r="2.3" fill="#f00" stroke="#000" stroke-width="0.8"/>
<circle cx="159.02" cy="280.25" r="2.3" fill="#f00" stroke="#000" stroke-width="0.8"/>
<circle cx="153.44" cy="279.62" r="2.3" fill="#f00" stroke="#000" stroke-width="0.8"/>
<circle cx="147.86" cy="279.40" r="2.3" fill="#f00" stroke="#000" stroke-width="0.8"/>
<circle cx="142.28" cy="279.70" r="2.3" fill="#f00" stroke="#000" stroke-width="0.8"/>
<circle cx="136.70" cy="280.60" r="2.3" fill="#f00" stroke="#000" stroke-width="0.8"/>
<circle cx="131.13" cy="281.60" r="2.3" fill="#f00" stroke="#000" stroke-width="0.8"/>
<circle cx="125.55" cy="283.00" r="2.3" fill="#f00" stroke="#000" stroke-width="0.8"/>
<circle cx="119.97" cy="285.90" r="2.3" fill="#f00" stroke="#000" stroke-width="0.8"/>
<circle cx="114.39" cy="288.70" r="2.3" fill="#f00" stroke="#000" stroke-width="0.8"/>
<circle cx="108.81" cy="292.30" r="2.3" fill="#f00" stroke="#000" stroke-width="0.8"/>
<circle cx="103.24" cy="297.30" r="2.3" fill="#f00" stroke="#000" stroke-width="0.8"/>
<circle cx="97.66" cy="304.00" r="2.3" fill="#f00" stroke="#000" stroke-width="0.8"/>
<circle cx="92.08" cy="311.70" r="2.3" fill="#f00" stroke="#000" stroke-width="0.8"/>
<circle cx="86.50" cy="323.30" r="2.3" fill="#f00" stroke="#000" stroke-width="0.8"/>
<circle cx="80.92" cy="336.60" r="2.3" fill="#f00" stroke="#000" stroke-width="0.8"/>
<circle cx="75.35" cy="353.30" r="2.3" fill="#f00" stroke="#000" stroke-width="0.8"/>
<circle cx="69.77" cy="370.90" r="2.3" fill="#f00" stroke="#000" stroke-width="0.8"/>
<circle cx="64.19" cy="388.30" r="2.3" fill="#f00" stroke="#000" stroke-width="0.8"/>
<circle cx="58.61" cy="407.90" r="2.3" fill="#f00" stroke="#000" stroke-width="0.8"/>
<circle cx="53.03" cy="419.30" r="2.3" fill="#f00" stroke="#000" stroke-width="0.8"/>
<circle cx="47.46" cy="428.00" r="2.3" fill="#f00" stroke="#000" stroke-width="0.8"/>
<path d="M312.56 452.48h5.28L315.20 457.05z" fill="#0f0" stroke="#000" stroke-width="0.75"/>
<path d="M306.98 452.56h5.28L309.62 457.14z" fill="#0f0" stroke="#000" stroke-width="0.75"/>
<path d="M301.40 452.55h5.28L304.04 457.13z" fill="#0f0" stroke="#000" stroke-width="0.75"/>
<path d="M295.82 452.40h5.28L298.47 456.98z" fill="#0f0" stroke="#000" stroke-width="0.75"/>
<path d="M290.25 452.07h5.28L292.89 456.64z" fill="#0f0" stroke="#000" stroke-width="0.75"/>
<path d="M284.67 451.48h5.28L287.31 456.05z" fill="#0f0" stroke="#000" stroke-width="0.75"/>
<path d="M279.09 450.99h5.28L281.73 455.56z" fill="#0f0" stroke="#000" stroke-width="0.75"/>
<path d="M273.51 450.03h5.28L276.15 454.61z" fill="#0f0" stroke="#000" stroke-width="0.75"/>
<path d="M267.93 448.48h5.28L270.58 453.05z" fill="#0f0" stroke="#000" stroke-width="0.75"/>
<path d="M262.36 445.98h5.28L265.00 450.55z" fill="#0f0" stroke="#000" stroke-width="0.75"/>
<path d="M256.78 443.38h5.28L259.42 447.95z" fill="#0f0" stroke="#000" stroke-width="0.75"/>
<path d="M251.20 437.58h5.28L253.84 442.15z" fill="#0f0" stroke="#000" stroke-width="0.75"/>
<path d="M245.62 431.48h5.28L248.26 436.05z" fill="#0f0" stroke="#000" stroke-width="0.75"/>
<path d="M240.04 423.18h5.28L242.69 427.75z" fill="#0f0" stroke="#000" stroke-width="0.75"/>
<path d="M234.47 412.48h5.28L237.11 417.05z" fill="#0f0" stroke="#000" stroke-width="0.75"/>
<path d="M228.89 399.88h5.28L231.53 404.45z" fill="#0f0" stroke="#000" stroke-width="0.75"/>
<path d="M223.31 384.48h5.28L225.95 389.05z" fill="#0f0" stroke="#000" stroke-width="0.75"/>
<path d="M217.73 368.48h5.28L220.37 373.05z" fill="#0f0" stroke="#000" stroke-width="0.75"/>
<path d="M212.15 351.38h5.28L214.80 355.95z" fill="#0f0" stroke="#000" stroke-width="0.75"/>
<path d="M206.58 335.38h5.28L209.22 339.95z" fill="#0f0" stroke="#000" stroke-width="0.75"/>
<path d="M201.00 321.38h5.28L203.64 325.95z" fill="#0f0" stroke="#000" stroke-width="0.75"/>
<path d="M195.42 309.48h5.28L198.06 314.05z" fill="#0f0" stroke="#000" stroke-width="0.75"/>
<path d="M189.84 300.28h5.28L192.48 304.85z" fill="#0f0" stroke="#000" stroke-width="0.75"/>
<path d="M184.26 292.78h5.28L186.91 297.35z" fill="#0f0" stroke="#000" stroke-width="0.75"/>
<path d="M178.69 287.78h5.28L181.33 292.35z" fill="#0f0" stroke="#000" stroke-width="0.75"/>
<path d="M173.11 284.01h5.28L175.75 288.58z" fill="#0f0" stroke="#000" stroke-width="0.75"/>
<path d="M167.53 281.29h5.28L170.17 285.87z" fill="#0f0" stroke="#000" stroke-width="0.75"/>
<path d="M161.95 279.38h5.28L164.59 283.95z" fill="#0f0" stroke="#000" stroke-width="0.75"/>
<path d="M156.37 278.06h5.28L159.02 282.64z" fill="#0f0" stroke="#000" stroke-width="0.75"/>
<path d="M150.80 277.21h5.28L153.44 281.78z" fill="#0f0" stroke="#000" stroke-width="0.75"/>
<path d="M145.22 276.70h5.28L147.86 281.28z" fill="#0f0" stroke="#000" stroke-width="0.75"/>
<path d="M139.64 276.48h5.28L142.28 281.05z" fill="#0f0" stroke="#000" stroke-width="0.75"/>
<path d="M134.06 276.78h5.28L136.70 281.35z" fill="#0f0" stroke="#000" stroke-width="0.75"/>
<path d="M128.48 276.78h5.28L131.13 281.35z" fill="#0f0" stroke="#000" stroke-width="0.75"/>
<path d="M122.91 277.48h5.28L125.55 282.05z" fill="#0f0" stroke="#000" stroke-width="0.75"/>
<path d="M117.33 278.18h5.28L119.97 282.75z" fill="#0f0" stroke="#000" stroke-width="0.75"/>
<path d="M111.75 279.08h5.28L114.39 283.65z" fill="#0f0" stroke="#000" stroke-width="0.75"/>
<path d="M106.17 280.08h5.28L108.81 284.65z" fill="#0f0" stroke="#000" stroke-width="0.75"/>
<path d="M100.59 281.48h5.28L103.24 286.05z" fill="#0f0" stroke="#000" stroke-width="0.75"/>
<path d="M95.02 283.88h5.28L97.66 288.45z" fill="#0f0" stroke="#000" stroke-width="0.75"/>
<path d="M89.44 287.38h5.28L92.08 291.95z" fill="#0f0" stroke="#000" stroke-width="0.75"/>
<path d="M83.86 291.08h5.28L86.50 295.65z" fill="#0f0" stroke="#000" stroke-width="0.75"/>
<path d="M78.28 296.48h5.28L80.92 301.05z" fill="#0f0" stroke="#000" stroke-width="0.75"/>
<path d="M72.70 302.84h5.28L75.35 307.42z" fill="#0f0" stroke="#000" stroke-width="0.75"/>
<path d="M67.13 311.08h5.28L69.77 315.65z" fill="#0f0" stroke="#000" stroke-width="0.75"/>
<path d="M61.55 321.78h5.28L64.19 326.35z" fill="#0f0" stroke="#000" stroke-width="0.75"/>
<path d="M55.97 334.68h5.28L58.61 339.25z" fill="#0f0" stroke="#000" stroke-width="0.75"/>
<path d="M50.39 349.78h5.28L53.03 354.35z" fill="#0f0" stroke="#000" stroke-width="0.75"/>
<path d="M44.81 361.78h5.28L47.46 366.35z" fill="#0f0" stroke="#000" stroke-width="0.75"/>
<path d="M312.56 455.52h5.28L315.20 450.95z" fill="#00f" stroke="#000" stroke-width="0.75"/>
<path d="M306.98 454.65h5.28L309.62 450.07z" fill="#00f" stroke="#000" stroke-width="0.75"/>
<path d="M301.40 454.11h5.28L304.04 449.54z" fill="#00f" stroke="#000" stroke-width="0.75"/>
<path d="M295.82 454.06h5.28L298.47 449.49z" fill="#00f" stroke="#000" stroke-width="0.75"/>
<path d="M290.25 454.32h5.28L292.89 449.74z" fill="#00f" stroke="#000" stroke-width="0.75"/>
<path d="M284.67 454.52h5.28L287.31 449.95z" fill="#00f" stroke="#000" stroke-width="0.75"/>
<path d="M279.09 453.82h5.28L281.73 449.25z" fill="#00f" stroke="#000" stroke-width="0.75"/>
<path d="M273.51 452.52h5.28L276.15 447.95z" fill="#00f" stroke="#000" stroke-width="0.75"/>
<path d="M267.93 450.52h5.28L270.58 445.95z" fill="#00f" stroke="#000" stroke-width="0.75"/>
<path d="M262.36 447.52h5.28L265.00 442.95z" fill="#00f" stroke="#000" stroke-width="0.75"/>
<path d="M256.78 443.62h5.28L259.42 439.05z" fill="#00f" stroke="#000" stroke-width="0.75"/>
<path d="M251.20 438.42h5.28L253.84 433.85z" fill="#00f" stroke="#000" stroke-width="0.75"/>
<path d="M245.62 430.82h5.28L248.26 426.25z" fill="#00f" stroke="#000" stroke-width="0.75"/>
<path d="M240.04 420.82h5.28L242.69 416.25z" fill="#00f" stroke="#000" stroke-width="0.75"/>
<path d="M234.47 408.92h5.28L237.11 404.35z" fill="#00f" stroke="#000" stroke-width="0.75"/>
<path d="M228.89 393.92h5.28L231.53 389.35z" fill="#00f" stroke="#000" stroke-width="0.75"/>
<path d="M223.31 378.42h5.28L225.95 373.85z" fill="#00f" stroke="#000" stroke-width="0.75"/>
<path d="M217.73 360.52h5.28L220.37 355.95z" fill="#00f" stroke="#000" stroke-width="0.75"/>
<path d="M212.15 343.92h5.28L214.80 339.35z" fill="#00f" stroke="#000" stroke-width="0.75"/>
<path d="M206.58 329.42h5.28L209.22 324.85z" fill="#00f" stroke="#000" stroke-width="0.75"/>
<path d="M201.00 316.42h5.28L203.64 311.85z" fill="#00f" stroke="#000" stroke-width="0.75"/>
<path d="M195.42 305.62h5.28L198.06 301.05z" fill="#00f" stroke="#000" stroke-width="0.75"/>
<path d="M189.84 298.12h5.28L192.48 293.55z" fill="#00f" stroke="#000" stroke-width="0.75"/>
<path d="M184.26 291.72h5.28L186.91 287.15z" fill="#00f" stroke="#000" stroke-width="0.75"/>
<path d="M178.69 287.32h5.28L181.33 282.75z" fill="#00f" stroke="#000" stroke-width="0.75"/>
<path d="M173.11 284.42h5.28L175.75 279.85z" fill="#00f" stroke="#000" stroke-width="0.75"/>
<path d="M167.53 282.12h5.28L170.17 277.55z" fill="#00f" stroke="#000" stroke-width="0.75"/>
<path d="M161.95 280.52h5.28L164.59 275.95z" fill="#00f" stroke="#000" stroke-width="0.75"/>
<path d="M156.37 279.32h5.28L159.02 274.75z" fill="#00f" stroke="#000" stroke-width="0.75"/>
<path d="M150.80 278.62h5.28L153.44 274.05z" fill="#00f" stroke="#000" stroke-width="0.75"/>
<path d="M145.22 277.42h5.28L147.86 272.85z" fill="#00f" stroke="#000" stroke-width="0.75"/>
<path d="M139.64 277.42h5.28L142.28 272.85z" fill="#00f" stroke="#000" stroke-width="0.75"/>
<path d="M134.06 277.42h5.28L136.70 272.85z" fill="#00f" stroke="#000" stroke-width="0.75"/>
<path d="M128.48 277.42h5.28L131.13 272.85z" fill="#00f" stroke="#000" stroke-width="0.75"/>
<path d="M122.91 277.62h5.28L125.55 273.05z" fill="#00f" stroke="#000" stroke-width="0.75"/>
<path d="M117.33 278.42h5.28L119.97 273.85z" fill="#00f" stroke="#000" stroke-width="0.75"/>
<path d="M111.75 278.92h5.28L114.39 274.35z" fill="#00f" stroke="#000" stroke-width="0.75"/>
<path d="M106.17 279.82h5.28L108.81 275.25z" fill="#00f" stroke="#000" stroke-width="0.75"/>
<path d="M100.59 280.62h5.28L103.24 276.05z" fill="#00f" stroke="#000" stroke-width="0.75"/>
<path d="M95.02 281.82h5.28L97.66 277.25z" fill="#00f" stroke="#000" stroke-width="0.75"/>
<path d="M89.44 284.12h5.28L92.08 279.55z" fill="#00f" stroke="#000" stroke-width="0.75"/>
<path d="M83.86 286.42h5.28L86.50 281.85z" fill="#00f" stroke="#000" stroke-width="0.75"/>
<path d="M78.28 289.82h5.28L80.92 285.25z" fill="#00f" stroke="#000" stroke-width="0.75"/>
<path d="M72.70 293.82h5.28L75.35 289.25z" fill="#00f" stroke="#000" stroke-width="0.75"/>
<path d="M67.13 299.52h5.28L69.77 294.95z" fill="#00f" stroke="#000" stroke-width="0.75"/>
<path d="M61.55 306.42h5.28L64.19 301.85z" fill="#00f" stroke="#000" stroke-width="0.75"/>
<path d="M55.97 316.12h5.28L58.61 311.55z" fill="#00f" stroke="#000" stroke-width="0.75"/>
<path d="M50.39 326.22h5.28L53.03 321.65z" fill="#00f" stroke="#000" stroke-width="0.75"/>
<path d="M44.81 342.12h5.28L47.46 337.55z" fill="#00f" stroke="#000" stroke-width="0.75"/>
<circle cx="315.20" cy="453.50" r="2.4" fill="#000" stroke="#000" stroke-width="0.7"/>
<circle cx="309.62" cy="453.51" r="2.4" fill="#000" stroke="#000" stroke-width="0.7"/>
<circle cx="304.04" cy="453.52" r="2.4" fill="#000" stroke="#000" stroke-width="0.7"/>
<circle cx="298.47" cy="453.54" r="2.4" fill="#000" stroke="#000" stroke-width="0.7"/>
<circle cx="292.89" cy="453.55" r="2.4" fill="#000" stroke="#000" stroke-width="0.7"/>
<circle cx="287.31" cy="453.55" r="2.4" fill="#000" stroke="#000" stroke-width="0.7"/>
<circle cx="281.73" cy="453.56" r="2.4" fill="#000" stroke="#000" stroke-width="0.7"/>
<circle cx="276.15" cy="453.56" r="2.4" fill="#000" stroke="#000" stroke-width="0.7"/>
<circle cx="270.58" cy="453.55" r="2.4" fill="#000" stroke="#000" stroke-width="0.7"/>
<circle cx="265.00" cy="453.54" r="2.4" fill="#000" stroke="#000" stroke-width="0.7"/>
<circle cx="259.42" cy="453.50" r="2.4" fill="#000" stroke="#000" stroke-width="0.7"/>
<circle cx="253.84" cy="453.47" r="2.4" fill="#000" stroke="#000" stroke-width="0.7"/>
<circle cx="248.26" cy="453.38" r="2.4" fill="#000" stroke="#000" stroke-width="0.7"/>
<circle cx="242.69" cy="453.20" r="2.4" fill="#000" stroke="#000" stroke-width="0.7"/>
<circle cx="237.11" cy="452.97" r="2.4" fill="#000" stroke="#000" stroke-width="0.7"/>
<circle cx="231.53" cy="452.50" r="2.4" fill="#000" stroke="#000" stroke-width="0.7"/>
<circle cx="225.95" cy="451.60" r="2.4" fill="#000" stroke="#000" stroke-width="0.7"/>
<circle cx="220.37" cy="450.00" r="2.4" fill="#000" stroke="#000" stroke-width="0.7"/>
<circle cx="214.80" cy="447.60" r="2.4" fill="#000" stroke="#000" stroke-width="0.7"/>
<circle cx="209.22" cy="445.00" r="2.4" fill="#000" stroke="#000" stroke-width="0.7"/>
<circle cx="203.64" cy="441.60" r="2.4" fill="#000" stroke="#000" stroke-width="0.7"/>
<circle cx="198.06" cy="437.00" r="2.4" fill="#000" stroke="#000" stroke-width="0.7"/>
<circle cx="192.48" cy="432.60" r="2.4" fill="#000" stroke="#000" stroke-width="0.7"/>
<circle cx="186.91" cy="428.00" r="2.4" fill="#000" stroke="#000" stroke-width="0.7"/>
<circle cx="181.33" cy="422.40" r="2.4" fill="#000" stroke="#000" stroke-width="0.7"/>
<circle cx="175.75" cy="416.47" r="2.4" fill="#000" stroke="#000" stroke-width="0.7"/>
<circle cx="170.17" cy="410.40" r="2.4" fill="#000" stroke="#000" stroke-width="0.7"/>
<circle cx="164.59" cy="405.00" r="2.4" fill="#000" stroke="#000" stroke-width="0.7"/>
<circle cx="159.02" cy="399.60" r="2.4" fill="#000" stroke="#000" stroke-width="0.7"/>
<circle cx="153.44" cy="393.60" r="2.4" fill="#000" stroke="#000" stroke-width="0.7"/>
<circle cx="147.86" cy="388.00" r="2.4" fill="#000" stroke="#000" stroke-width="0.7"/>
<circle cx="142.28" cy="382.00" r="2.4" fill="#000" stroke="#000" stroke-width="0.7"/>
<circle cx="136.70" cy="376.30" r="2.4" fill="#000" stroke="#000" stroke-width="0.7"/>
<circle cx="131.13" cy="370.30" r="2.4" fill="#000" stroke="#000" stroke-width="0.7"/>
<circle cx="125.55" cy="364.80" r="2.4" fill="#000" stroke="#000" stroke-width="0.7"/>
<circle cx="119.97" cy="359.20" r="2.4" fill="#000" stroke="#000" stroke-width="0.7"/>
<circle cx="114.39" cy="353.50" r="2.4" fill="#000" stroke="#000" stroke-width="0.7"/>
<circle cx="108.81" cy="348.00" r="2.4" fill="#000" stroke="#000" stroke-width="0.7"/>
<circle cx="103.24" cy="343.40" r="2.4" fill="#000" stroke="#000" stroke-width="0.7"/>
<circle cx="97.66" cy="338.30" r="2.4" fill="#000" stroke="#000" stroke-width="0.7"/>
<circle cx="92.08" cy="334.90" r="2.4" fill="#000" stroke="#000" stroke-width="0.7"/>
<circle cx="86.50" cy="332.60" r="2.4" fill="#000" stroke="#000" stroke-width="0.7"/>
<circle cx="80.92" cy="331.40" r="2.4" fill="#000" stroke="#000" stroke-width="0.7"/>
<circle cx="75.35" cy="330.30" r="2.4" fill="#000" stroke="#000" stroke-width="0.7"/>
<circle cx="69.77" cy="329.60" r="2.4" fill="#000" stroke="#000" stroke-width="0.7"/>
<circle cx="64.19" cy="329.00" r="2.4" fill="#000" stroke="#000" stroke-width="0.7"/>
<circle cx="58.61" cy="328.30" r="2.4" fill="#000" stroke="#000" stroke-width="0.7"/>
<circle cx="53.03" cy="327.90" r="2.4" fill="#000" stroke="#000" stroke-width="0.7"/>
<circle cx="47.46" cy="327.90" r="2.4" fill="#000" stroke="#000" stroke-width="0.7"/>
<circle cx="315.20" cy="451.50" r="2.3" fill="#f00" stroke="#000" stroke-width="0.8"/>
<circle cx="309.62" cy="451.55" r="2.3" fill="#f00" stroke="#000" stroke-width="0.8"/>
<circle cx="304.04" cy="451.63" r="2.3" fill="#f00" stroke="#000" stroke-width="0.8"/>
<circle cx="298.47" cy="451.74" r="2.3" fill="#f00" stroke="#000" stroke-width="0.8"/>
<circle cx="292.89" cy="451.87" r="2.3" fill="#f00" stroke="#000" stroke-width="0.8"/>
<circle cx="287.31" cy="452.00" r="2.3" fill="#f00" stroke="#000" stroke-width="0.8"/>
<circle cx="281.73" cy="451.90" r="2.3" fill="#f00" stroke="#000" stroke-width="0.8"/>
<circle cx="276.15" cy="451.80" r="2.3" fill="#f00" stroke="#000" stroke-width="0.8"/>
<circle cx="270.58" cy="451.69" r="2.3" fill="#f00" stroke="#000" stroke-width="0.8"/>
<circle cx="265.00" cy="451.56" r="2.3" fill="#f00" stroke="#000" stroke-width="0.8"/>
<circle cx="259.42" cy="451.40" r="2.3" fill="#f00" stroke="#000" stroke-width="0.8"/>
<circle cx="253.84" cy="451.45" r="2.3" fill="#f00" stroke="#000" stroke-width="0.8"/>
<circle cx="248.26" cy="451.40" r="2.3" fill="#f00" stroke="#000" stroke-width="0.8"/>
<circle cx="242.69" cy="451.34" r="2.3" fill="#f00" stroke="#000" stroke-width="0.8"/>
<circle cx="237.11" cy="451.00" r="2.3" fill="#f00" stroke="#000" stroke-width="0.8"/>
<circle cx="231.53" cy="450.00" r="2.3" fill="#f00" stroke="#000" stroke-width="0.8"/>
<circle cx="225.95" cy="448.50" r="2.3" fill="#f00" stroke="#000" stroke-width="0.8"/>
<circle cx="220.37" cy="446.50" r="2.3" fill="#f00" stroke="#000" stroke-width="0.8"/>
<circle cx="214.80" cy="442.00" r="2.3" fill="#f00" stroke="#000" stroke-width="0.8"/>
<circle cx="209.22" cy="437.40" r="2.3" fill="#f00" stroke="#000" stroke-width="0.8"/>
<circle cx="203.64" cy="432.40" r="2.3" fill="#f00" stroke="#000" stroke-width="0.8"/>
<circle cx="198.06" cy="427.00" r="2.3" fill="#f00" stroke="#000" stroke-width="0.8"/>
<circle cx="192.48" cy="422.00" r="2.3" fill="#f00" stroke="#000" stroke-width="0.8"/>
<circle cx="186.91" cy="416.00" r="2.3" fill="#f00" stroke="#000" stroke-width="0.8"/>
<circle cx="181.33" cy="410.00" r="2.3" fill="#f00" stroke="#000" stroke-width="0.8"/>
<circle cx="175.75" cy="405.00" r="2.3" fill="#f00" stroke="#000" stroke-width="0.8"/>
<circle cx="170.17" cy="399.40" r="2.3" fill="#f00" stroke="#000" stroke-width="0.8"/>
<circle cx="164.59" cy="393.40" r="2.3" fill="#f00" stroke="#000" stroke-width="0.8"/>
<circle cx="159.02" cy="387.60" r="2.3" fill="#f00" stroke="#000" stroke-width="0.8"/>
<circle cx="153.44" cy="382.00" r="2.3" fill="#f00" stroke="#000" stroke-width="0.8"/>
<circle cx="147.86" cy="376.00" r="2.3" fill="#f00" stroke="#000" stroke-width="0.8"/>
<circle cx="142.28" cy="370.00" r="2.3" fill="#f00" stroke="#000" stroke-width="0.8"/>
<circle cx="136.70" cy="364.00" r="2.3" fill="#f00" stroke="#000" stroke-width="0.8"/>
<circle cx="131.13" cy="358.00" r="2.3" fill="#f00" stroke="#000" stroke-width="0.8"/>
<circle cx="125.55" cy="352.16" r="2.3" fill="#f00" stroke="#000" stroke-width="0.8"/>
<circle cx="119.97" cy="346.33" r="2.3" fill="#f00" stroke="#000" stroke-width="0.8"/>
<circle cx="114.39" cy="340.52" r="2.3" fill="#f00" stroke="#000" stroke-width="0.8"/>
<circle cx="108.81" cy="334.76" r="2.3" fill="#f00" stroke="#000" stroke-width="0.8"/>
<circle cx="103.24" cy="329.07" r="2.3" fill="#f00" stroke="#000" stroke-width="0.8"/>
<circle cx="97.66" cy="323.49" r="2.3" fill="#f00" stroke="#000" stroke-width="0.8"/>
<circle cx="92.08" cy="318.09" r="2.3" fill="#f00" stroke="#000" stroke-width="0.8"/>
<circle cx="86.50" cy="313.00" r="2.3" fill="#f00" stroke="#000" stroke-width="0.8"/>
<circle cx="80.92" cy="308.60" r="2.3" fill="#f00" stroke="#000" stroke-width="0.8"/>
<circle cx="75.35" cy="304.80" r="2.3" fill="#f00" stroke="#000" stroke-width="0.8"/>
<circle cx="69.77" cy="301.40" r="2.3" fill="#f00" stroke="#000" stroke-width="0.8"/>
<circle cx="64.19" cy="298.80" r="2.3" fill="#f00" stroke="#000" stroke-width="0.8"/>
<circle cx="58.61" cy="297.40" r="2.3" fill="#f00" stroke="#000" stroke-width="0.8"/>
<circle cx="53.03" cy="296.60" r="2.3" fill="#f00" stroke="#000" stroke-width="0.8"/>
<circle cx="47.46" cy="295.70" r="2.3" fill="#f00" stroke="#000" stroke-width="0.8"/>
<path d="M312.56 447.38h5.28L315.20 451.95z" fill="#0f0" stroke="#000" stroke-width="0.75"/>
<path d="M306.98 447.48h5.28L309.62 452.05z" fill="#0f0" stroke="#000" stroke-width="0.75"/>
<path d="M301.40 447.58h5.28L304.04 452.16z" fill="#0f0" stroke="#000" stroke-width="0.75"/>
<path d="M295.82 447.68h5.28L298.47 452.26z" fill="#0f0" stroke="#000" stroke-width="0.75"/>
<path d="M290.25 447.78h5.28L292.89 452.36z" fill="#0f0" stroke="#000" stroke-width="0.75"/>
<path d="M284.67 447.88h5.28L287.31 452.45z" fill="#0f0" stroke="#000" stroke-width="0.75"/>
<path d="M279.09 447.96h5.28L281.73 452.54z" fill="#0f0" stroke="#000" stroke-width="0.75"/>
<path d="M273.51 448.03h5.28L276.15 452.61z" fill="#0f0" stroke="#000" stroke-width="0.75"/>
<path d="M267.93 448.07h5.28L270.58 452.65z" fill="#0f0" stroke="#000" stroke-width="0.75"/>
<path d="M262.36 448.06h5.28L265.00 452.63z" fill="#0f0" stroke="#000" stroke-width="0.75"/>
<path d="M256.78 447.98h5.28L259.42 452.55z" fill="#0f0" stroke="#000" stroke-width="0.75"/>
<path d="M251.20 447.94h5.28L253.84 452.51z" fill="#0f0" stroke="#000" stroke-width="0.75"/>
<path d="M245.62 447.78h5.28L248.26 452.35z" fill="#0f0" stroke="#000" stroke-width="0.75"/>
<path d="M240.04 447.44h5.28L242.69 452.01z" fill="#0f0" stroke="#000" stroke-width="0.75"/>
<path d="M234.47 446.88h5.28L237.11 451.45z" fill="#0f0" stroke="#000" stroke-width="0.75"/>
<path d="M228.89 446.08h5.28L231.53 450.65z" fill="#0f0" stroke="#000" stroke-width="0.75"/>
<path d="M223.31 444.08h5.28L225.95 448.65z" fill="#0f0" stroke="#000" stroke-width="0.75"/>
<path d="M217.73 442.08h5.28L220.37 446.65z" fill="#0f0" stroke="#000" stroke-width="0.75"/>
<path d="M212.15 438.98h5.28L214.80 443.55z" fill="#0f0" stroke="#000" stroke-width="0.75"/>
<path d="M206.58 434.38h5.28L209.22 438.95z" fill="#0f0" stroke="#000" stroke-width="0.75"/>
<path d="M201.00 429.38h5.28L203.64 433.95z" fill="#0f0" stroke="#000" stroke-width="0.75"/>
<path d="M195.42 423.98h5.28L198.06 428.55z" fill="#0f0" stroke="#000" stroke-width="0.75"/>
<path d="M189.84 418.98h5.28L192.48 423.55z" fill="#0f0" stroke="#000" stroke-width="0.75"/>
<path d="M184.26 412.98h5.28L186.91 417.55z" fill="#0f0" stroke="#000" stroke-width="0.75"/>
<path d="M178.69 406.98h5.28L181.33 411.55z" fill="#0f0" stroke="#000" stroke-width="0.75"/>
<path d="M173.11 401.98h5.28L175.75 406.55z" fill="#0f0" stroke="#000" stroke-width="0.75"/>
<path d="M167.53 396.38h5.28L170.17 400.95z" fill="#0f0" stroke="#000" stroke-width="0.75"/>
<path d="M161.95 390.38h5.28L164.59 394.95z" fill="#0f0" stroke="#000" stroke-width="0.75"/>
<path d="M156.37 384.58h5.28L159.02 389.15z" fill="#0f0" stroke="#000" stroke-width="0.75"/>
<path d="M150.80 378.98h5.28L153.44 383.55z" fill="#0f0" stroke="#000" stroke-width="0.75"/>
<path d="M145.22 372.98h5.28L147.86 377.55z" fill="#0f0" stroke="#000" stroke-width="0.75"/>
<path d="M139.64 366.98h5.28L142.28 371.55z" fill="#0f0" stroke="#000" stroke-width="0.75"/>
<path d="M134.06 360.98h5.28L136.70 365.55z" fill="#0f0" stroke="#000" stroke-width="0.75"/>
<path d="M128.48 354.98h5.28L131.13 359.55z" fill="#0f0" stroke="#000" stroke-width="0.75"/>
<path d="M122.91 349.07h5.28L125.55 353.65z" fill="#0f0" stroke="#000" stroke-width="0.75"/>
<path d="M117.33 343.18h5.28L119.97 347.75z" fill="#0f0" stroke="#000" stroke-width="0.75"/>
<path d="M111.75 337.29h5.28L114.39 341.87z" fill="#0f0" stroke="#000" stroke-width="0.75"/>
<path d="M106.17 331.43h5.28L108.81 336.00z" fill="#0f0" stroke="#000" stroke-width="0.75"/>
<path d="M100.59 325.58h5.28L103.24 330.15z" fill="#0f0" stroke="#000" stroke-width="0.75"/>
<path d="M95.02 319.75h5.28L97.66 324.33z" fill="#0f0" stroke="#000" stroke-width="0.75"/>
<path d="M89.44 313.96h5.28L92.08 318.53z" fill="#0f0" stroke="#000" stroke-width="0.75"/>
<path d="M83.86 308.22h5.28L86.50 312.79z" fill="#0f0" stroke="#000" stroke-width="0.75"/>
<path d="M78.28 302.54h5.28L80.92 307.12z" fill="#0f0" stroke="#000" stroke-width="0.75"/>
<path d="M72.70 296.98h5.28L75.35 301.56z" fill="#0f0" stroke="#000" stroke-width="0.75"/>
<path d="M67.13 291.60h5.28L69.77 296.17z" fill="#0f0" stroke="#000" stroke-width="0.75"/>
<path d="M61.55 286.48h5.28L64.19 291.05z" fill="#0f0" stroke="#000" stroke-width="0.75"/>
<path d="M55.97 282.38h5.28L58.61 286.95z" fill="#0f0" stroke="#000" stroke-width="0.75"/>
<path d="M50.39 278.48h5.28L53.03 283.05z" fill="#0f0" stroke="#000" stroke-width="0.75"/>
<path d="M44.81 273.88h5.28L47.46 278.45z" fill="#0f0" stroke="#000" stroke-width="0.75"/>
<path d="M312.56 454.52h5.28L315.20 449.95z" fill="#00f" stroke="#000" stroke-width="0.75"/>
<path d="M306.98 454.75h5.28L309.62 450.17z" fill="#00f" stroke="#000" stroke-width="0.75"/>
<path d="M301.40 454.91h5.28L304.04 450.33z" fill="#00f" stroke="#000" stroke-width="0.75"/>
<path d="M295.82 455.06h5.28L298.47 450.49z" fill="#00f" stroke="#000" stroke-width="0.75"/>
<path d="M290.25 455.26h5.28L292.89 450.69z" fill="#00f" stroke="#000" stroke-width="0.75"/>
<path d="M284.67 455.52h5.28L287.31 450.95z" fill="#00f" stroke="#000" stroke-width="0.75"/>
<path d="M279.09 455.45h5.28L281.73 450.88z" fill="#00f" stroke="#000" stroke-width="0.75"/>
<path d="M273.51 455.41h5.28L276.15 450.83z" fill="#00f" stroke="#000" stroke-width="0.75"/>
<path d="M267.93 455.37h5.28L270.58 450.80z" fill="#00f" stroke="#000" stroke-width="0.75"/>
<path d="M262.36 455.32h5.28L265.00 450.74z" fill="#00f" stroke="#000" stroke-width="0.75"/>
<path d="M256.78 455.22h5.28L259.42 450.65z" fill="#00f" stroke="#000" stroke-width="0.75"/>
<path d="M251.20 455.09h5.28L253.84 450.52z" fill="#00f" stroke="#000" stroke-width="0.75"/>
<path d="M245.62 454.82h5.28L248.26 450.25z" fill="#00f" stroke="#000" stroke-width="0.75"/>
<path d="M240.04 454.55h5.28L242.69 449.97z" fill="#00f" stroke="#000" stroke-width="0.75"/>
<path d="M234.47 453.92h5.28L237.11 449.35z" fill="#00f" stroke="#000" stroke-width="0.75"/>
<path d="M228.89 453.12h5.28L231.53 448.55z" fill="#00f" stroke="#000" stroke-width="0.75"/>
<path d="M223.31 449.92h5.28L225.95 445.35z" fill="#00f" stroke="#000" stroke-width="0.75"/>
<path d="M217.73 446.52h5.28L220.37 441.95z" fill="#00f" stroke="#000" stroke-width="0.75"/>
<path d="M212.15 442.52h5.28L214.80 437.95z" fill="#00f" stroke="#000" stroke-width="0.75"/>
<path d="M206.58 437.92h5.28L209.22 433.35z" fill="#00f" stroke="#000" stroke-width="0.75"/>
<path d="M201.00 432.92h5.28L203.64 428.35z" fill="#00f" stroke="#000" stroke-width="0.75"/>
<path d="M195.42 427.52h5.28L198.06 422.95z" fill="#00f" stroke="#000" stroke-width="0.75"/>
<path d="M189.84 422.52h5.28L192.48 417.95z" fill="#00f" stroke="#000" stroke-width="0.75"/>
<path d="M184.26 416.52h5.28L186.91 411.95z" fill="#00f" stroke="#000" stroke-width="0.75"/>
<path d="M178.69 410.52h5.28L181.33 405.95z" fill="#00f" stroke="#000" stroke-width="0.75"/>
<path d="M173.11 405.52h5.28L175.75 400.95z" fill="#00f" stroke="#000" stroke-width="0.75"/>
<path d="M167.53 399.92h5.28L170.17 395.35z" fill="#00f" stroke="#000" stroke-width="0.75"/>
<path d="M161.95 393.92h5.28L164.59 389.35z" fill="#00f" stroke="#000" stroke-width="0.75"/>
<path d="M156.37 388.12h5.28L159.02 383.55z" fill="#00f" stroke="#000" stroke-width="0.75"/>
<path d="M150.80 382.52h5.28L153.44 377.95z" fill="#00f" stroke="#000" stroke-width="0.75"/>
<path d="M145.22 376.52h5.28L147.86 371.95z" fill="#00f" stroke="#000" stroke-width="0.75"/>
<path d="M139.64 370.52h5.28L142.28 365.95z" fill="#00f" stroke="#000" stroke-width="0.75"/>
<path d="M134.06 364.52h5.28L136.70 359.95z" fill="#00f" stroke="#000" stroke-width="0.75"/>
<path d="M128.48 358.52h5.28L131.13 353.95z" fill="#00f" stroke="#000" stroke-width="0.75"/>
<path d="M122.91 352.53h5.28L125.55 347.95z" fill="#00f" stroke="#000" stroke-width="0.75"/>
<path d="M117.33 346.53h5.28L119.97 341.96z" fill="#00f" stroke="#000" stroke-width="0.75"/>
<path d="M111.75 340.54h5.28L114.39 335.97z" fill="#00f" stroke="#000" stroke-width="0.75"/>
<path d="M106.17 334.55h5.28L108.81 329.98z" fill="#00f" stroke="#000" stroke-width="0.75"/>
<path d="M100.59 328.57h5.28L103.24 323.99z" fill="#00f" stroke="#000" stroke-width="0.75"/>
<path d="M95.02 322.59h5.28L97.66 318.02z" fill="#00f" stroke="#000" stroke-width="0.75"/>
<path d="M89.44 316.62h5.28L92.08 312.05z" fill="#00f" stroke="#000" stroke-width="0.75"/>
<path d="M83.86 310.92h5.28L86.50 306.35z" fill="#00f" stroke="#000" stroke-width="0.75"/>
<path d="M78.28 305.52h5.28L80.92 300.95z" fill="#00f" stroke="#000" stroke-width="0.75"/>
<path d="M72.70 299.52h5.28L75.35 294.95z" fill="#00f" stroke="#000" stroke-width="0.75"/>
<path d="M67.13 293.82h5.28L69.77 289.25z" fill="#00f" stroke="#000" stroke-width="0.75"/>
<path d="M61.55 288.42h5.28L64.19 283.85z" fill="#00f" stroke="#000" stroke-width="0.75"/>
<path d="M55.97 283.22h5.28L58.61 278.65z" fill="#00f" stroke="#000" stroke-width="0.75"/>
<path d="M50.39 279.12h5.28L53.03 274.55z" fill="#00f" stroke="#000" stroke-width="0.75"/>
<path d="M44.81 274.12h5.28L47.46 269.55z" fill="#00f" stroke="#000" stroke-width="0.75"/>
<circle cx="95.30" cy="155.00" r="2.4" fill="#000" stroke="#000" stroke-width="0.7"/>
<circle cx="95.30" cy="167.00" r="2.3" fill="#f00" stroke="#000" stroke-width="0.8"/>
<path d="M92.66 178.97h5.28L95.30 183.55z" fill="#0f0" stroke="#000" stroke-width="0.75"/>
<path d="M92.66 195.62h5.28L95.30 191.05z" fill="#00f" stroke="#000" stroke-width="0.75"/>
<text x="125.8" y="157.70" font-size="8.4" font-weight="bold">DHS</text>
<text x="125.8" y="168.80" font-size="8.4" font-weight="bold">DHS + CeCl<tspan dy="2.9" font-size="8.4">3</tspan></text>
<text x="125.8" y="181.70" font-size="8.4" font-weight="bold">DHS + Ce(NO<tspan dy="2.9" font-size="8.4">3</tspan><tspan dy="-2.9">)</tspan><tspan dy="2.9" font-size="8.4">3</tspan></text>
<text x="125.8" y="194.90" font-size="8.4" font-weight="bold">DHS + Ce(OAc)<tspan dy="2.9" font-size="8.4">3</tspan></text>
<circle cx="95.30" cy="415.00" r="2.4" fill="#000" stroke="#000" stroke-width="0.7"/>
<circle cx="95.30" cy="427.00" r="2.3" fill="#f00" stroke="#000" stroke-width="0.8"/>
<path d="M92.66 438.98h5.28L95.30 443.55z" fill="#0f0" stroke="#000" stroke-width="0.75"/>
<path d="M92.66 455.62h5.28L95.30 451.05z" fill="#00f" stroke="#000" stroke-width="0.75"/>
<text x="125.8" y="417.70" font-size="8.4" font-weight="bold">DHS</text>
<text x="125.8" y="428.80" font-size="8.4" font-weight="bold">DHS + CeCl<tspan dy="2.9" font-size="8.4">3</tspan></text>
<text x="125.8" y="441.70" font-size="8.4" font-weight="bold">DHS + Ce(NO<tspan dy="2.9" font-size="8.4">3</tspan><tspan dy="-2.9">)</tspan><tspan dy="2.9" font-size="8.4">3</tspan></text>
<text x="125.8" y="454.90" font-size="8.4" font-weight="bold">DHS + Ce(OAc)<tspan dy="2.9" font-size="8.4">3</tspan></text>
</svg></body></html>
